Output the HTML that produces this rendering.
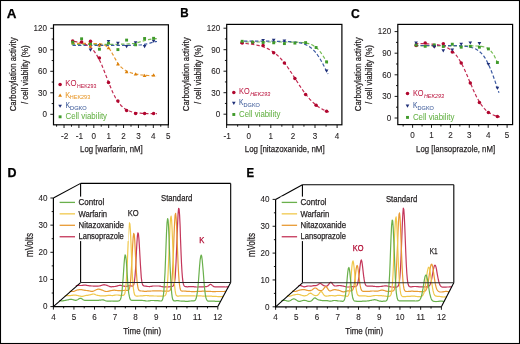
<!DOCTYPE html>
<html><head><meta charset="utf-8"><style>
html,body{margin:0;padding:0;background:#fff;}
svg{display:block;will-change:transform;}
text{font-family:"Liberation Sans",sans-serif;}
</style></head><body>
<svg width="520" height="344" viewBox="0 0 520 344" font-family="Liberation Sans, sans-serif">
<rect x="0.5" y="0.5" width="519" height="343" fill="#fff" stroke="#000" stroke-width="1.1"/>
<text x="6.80" y="17.90" font-size="12.2" fill="#000" stroke="#000" stroke-width="0.25" text-anchor="start" textLength="9.7" lengthAdjust="spacingAndGlyphs" font-weight="bold">A</text>
<text x="180.30" y="17.40" font-size="12.2" fill="#000" stroke="#000" stroke-width="0.25" text-anchor="start" textLength="8.4" lengthAdjust="spacingAndGlyphs" font-weight="bold">B</text>
<text x="351.00" y="17.60" font-size="12.2" fill="#000" stroke="#000" stroke-width="0.25" text-anchor="start" textLength="8.8" lengthAdjust="spacingAndGlyphs" font-weight="bold">C</text>
<text x="7.60" y="177.00" font-size="12.2" fill="#000" stroke="#000" stroke-width="0.25" text-anchor="start" textLength="9.0" lengthAdjust="spacingAndGlyphs" font-weight="bold">D</text>
<text x="246.40" y="177.10" font-size="12.2" fill="#000" stroke="#000" stroke-width="0.25" text-anchor="start" textLength="7.6" lengthAdjust="spacingAndGlyphs" font-weight="bold">E</text>
<line x1="50.30" y1="114.30" x2="53.50" y2="114.30" stroke="#000" stroke-width="0.9" />
<text x="47.00" y="117.10" font-size="8.7" fill="#231f20" stroke="#231f20" stroke-width="0.1" text-anchor="end" textLength="4.5" lengthAdjust="spacingAndGlyphs" >0</text>
<line x1="50.30" y1="92.80" x2="53.50" y2="92.80" stroke="#000" stroke-width="0.9" />
<text x="47.00" y="95.60" font-size="8.7" fill="#231f20" stroke="#231f20" stroke-width="0.1" text-anchor="end" textLength="9.0" lengthAdjust="spacingAndGlyphs" >30</text>
<line x1="50.30" y1="71.30" x2="53.50" y2="71.30" stroke="#000" stroke-width="0.9" />
<text x="47.00" y="74.10" font-size="8.7" fill="#231f20" stroke="#231f20" stroke-width="0.1" text-anchor="end" textLength="9.0" lengthAdjust="spacingAndGlyphs" >60</text>
<line x1="50.30" y1="49.80" x2="53.50" y2="49.80" stroke="#000" stroke-width="0.9" />
<text x="47.00" y="52.60" font-size="8.7" fill="#231f20" stroke="#231f20" stroke-width="0.1" text-anchor="end" textLength="9.0" lengthAdjust="spacingAndGlyphs" >90</text>
<line x1="50.30" y1="28.30" x2="53.50" y2="28.30" stroke="#000" stroke-width="0.9" />
<text x="47.00" y="31.10" font-size="8.7" fill="#231f20" stroke="#231f20" stroke-width="0.1" text-anchor="end" textLength="13.5" lengthAdjust="spacingAndGlyphs" >120</text>
<line x1="51.70" y1="103.55" x2="53.50" y2="103.55" stroke="#000" stroke-width="0.9" />
<line x1="51.70" y1="82.05" x2="53.50" y2="82.05" stroke="#000" stroke-width="0.9" />
<line x1="51.70" y1="60.55" x2="53.50" y2="60.55" stroke="#000" stroke-width="0.9" />
<line x1="51.70" y1="39.05" x2="53.50" y2="39.05" stroke="#000" stroke-width="0.9" />
<line x1="64.04" y1="124.80" x2="64.04" y2="128.00" stroke="#000" stroke-width="0.9" />
<text x="64.64" y="138.60" font-size="8.7" fill="#231f20" stroke="#231f20" stroke-width="0.1" text-anchor="middle" textLength="7.4" lengthAdjust="spacingAndGlyphs" >-2</text>
<line x1="78.92" y1="124.80" x2="78.92" y2="128.00" stroke="#000" stroke-width="0.9" />
<text x="79.52" y="138.60" font-size="8.7" fill="#231f20" stroke="#231f20" stroke-width="0.1" text-anchor="middle" textLength="7.4" lengthAdjust="spacingAndGlyphs" >-1</text>
<line x1="93.80" y1="124.80" x2="93.80" y2="128.00" stroke="#000" stroke-width="0.9" />
<text x="93.80" y="138.60" font-size="8.7" fill="#231f20" stroke="#231f20" stroke-width="0.1" text-anchor="middle" textLength="4.5" lengthAdjust="spacingAndGlyphs" >0</text>
<line x1="108.68" y1="124.80" x2="108.68" y2="128.00" stroke="#000" stroke-width="0.9" />
<text x="108.68" y="138.60" font-size="8.7" fill="#231f20" stroke="#231f20" stroke-width="0.1" text-anchor="middle" textLength="4.5" lengthAdjust="spacingAndGlyphs" >1</text>
<line x1="123.56" y1="124.80" x2="123.56" y2="128.00" stroke="#000" stroke-width="0.9" />
<text x="123.56" y="138.60" font-size="8.7" fill="#231f20" stroke="#231f20" stroke-width="0.1" text-anchor="middle" textLength="4.5" lengthAdjust="spacingAndGlyphs" >2</text>
<line x1="138.44" y1="124.80" x2="138.44" y2="128.00" stroke="#000" stroke-width="0.9" />
<text x="138.44" y="138.60" font-size="8.7" fill="#231f20" stroke="#231f20" stroke-width="0.1" text-anchor="middle" textLength="4.5" lengthAdjust="spacingAndGlyphs" >3</text>
<line x1="153.32" y1="124.80" x2="153.32" y2="128.00" stroke="#000" stroke-width="0.9" />
<text x="153.32" y="138.60" font-size="8.7" fill="#231f20" stroke="#231f20" stroke-width="0.1" text-anchor="middle" textLength="4.5" lengthAdjust="spacingAndGlyphs" >4</text>
<line x1="168.20" y1="124.80" x2="168.20" y2="128.00" stroke="#000" stroke-width="0.9" />
<text x="168.20" y="138.60" font-size="8.7" fill="#231f20" stroke="#231f20" stroke-width="0.1" text-anchor="middle" textLength="4.5" lengthAdjust="spacingAndGlyphs" >5</text>
<line x1="56.60" y1="124.80" x2="56.60" y2="126.70" stroke="#000" stroke-width="0.9" />
<line x1="71.48" y1="124.80" x2="71.48" y2="126.70" stroke="#000" stroke-width="0.9" />
<line x1="86.36" y1="124.80" x2="86.36" y2="126.70" stroke="#000" stroke-width="0.9" />
<line x1="101.24" y1="124.80" x2="101.24" y2="126.70" stroke="#000" stroke-width="0.9" />
<line x1="116.12" y1="124.80" x2="116.12" y2="126.70" stroke="#000" stroke-width="0.9" />
<line x1="131.00" y1="124.80" x2="131.00" y2="126.70" stroke="#000" stroke-width="0.9" />
<line x1="145.88" y1="124.80" x2="145.88" y2="126.70" stroke="#000" stroke-width="0.9" />
<line x1="160.76" y1="124.80" x2="160.76" y2="126.70" stroke="#000" stroke-width="0.9" />
<rect x="53.50" y="24.80" width="114.90" height="100.00" fill="none" stroke="#000" stroke-width="1.2"/>
<text x="80.10" y="151.80" font-size="9.8" fill="#231f20" stroke="#231f20" stroke-width="0.25" text-anchor="start" textLength="62.6" lengthAdjust="spacingAndGlyphs" >Log [warfarin, nM]</text>
<text transform="translate(16.2,111.3) rotate(-90)" font-size="9.9" fill="#231f20" stroke="#231f20" stroke-width="0.25" textLength="73.9" lengthAdjust="spacingAndGlyphs">Carboxylation activity</text>
<text transform="translate(27.8,104.1) rotate(-90)" font-size="9.9" fill="#231f20" stroke="#231f20" stroke-width="0.25" textLength="58.8" lengthAdjust="spacingAndGlyphs">/ cell viability (%)</text>
<line x1="223.50" y1="114.20" x2="226.70" y2="114.20" stroke="#000" stroke-width="0.9" />
<text x="220.20" y="117.00" font-size="8.7" fill="#231f20" stroke="#231f20" stroke-width="0.1" text-anchor="end" textLength="4.5" lengthAdjust="spacingAndGlyphs" >0</text>
<line x1="223.50" y1="92.70" x2="226.70" y2="92.70" stroke="#000" stroke-width="0.9" />
<text x="220.20" y="95.50" font-size="8.7" fill="#231f20" stroke="#231f20" stroke-width="0.1" text-anchor="end" textLength="9.0" lengthAdjust="spacingAndGlyphs" >30</text>
<line x1="223.50" y1="71.20" x2="226.70" y2="71.20" stroke="#000" stroke-width="0.9" />
<text x="220.20" y="74.00" font-size="8.7" fill="#231f20" stroke="#231f20" stroke-width="0.1" text-anchor="end" textLength="9.0" lengthAdjust="spacingAndGlyphs" >60</text>
<line x1="223.50" y1="49.70" x2="226.70" y2="49.70" stroke="#000" stroke-width="0.9" />
<text x="220.20" y="52.50" font-size="8.7" fill="#231f20" stroke="#231f20" stroke-width="0.1" text-anchor="end" textLength="9.0" lengthAdjust="spacingAndGlyphs" >90</text>
<line x1="223.50" y1="28.20" x2="226.70" y2="28.20" stroke="#000" stroke-width="0.9" />
<text x="220.20" y="31.00" font-size="8.7" fill="#231f20" stroke="#231f20" stroke-width="0.1" text-anchor="end" textLength="13.5" lengthAdjust="spacingAndGlyphs" >120</text>
<line x1="224.90" y1="103.45" x2="226.70" y2="103.45" stroke="#000" stroke-width="0.9" />
<line x1="224.90" y1="81.95" x2="226.70" y2="81.95" stroke="#000" stroke-width="0.9" />
<line x1="224.90" y1="60.45" x2="226.70" y2="60.45" stroke="#000" stroke-width="0.9" />
<line x1="224.90" y1="38.95" x2="226.70" y2="38.95" stroke="#000" stroke-width="0.9" />
<line x1="226.60" y1="124.80" x2="226.60" y2="128.00" stroke="#000" stroke-width="0.9" />
<text x="227.20" y="138.60" font-size="8.7" fill="#231f20" stroke="#231f20" stroke-width="0.1" text-anchor="middle" textLength="7.4" lengthAdjust="spacingAndGlyphs" >-1</text>
<line x1="248.70" y1="124.80" x2="248.70" y2="128.00" stroke="#000" stroke-width="0.9" />
<text x="248.70" y="138.60" font-size="8.7" fill="#231f20" stroke="#231f20" stroke-width="0.1" text-anchor="middle" textLength="4.5" lengthAdjust="spacingAndGlyphs" >0</text>
<line x1="270.80" y1="124.80" x2="270.80" y2="128.00" stroke="#000" stroke-width="0.9" />
<text x="270.80" y="138.60" font-size="8.7" fill="#231f20" stroke="#231f20" stroke-width="0.1" text-anchor="middle" textLength="4.5" lengthAdjust="spacingAndGlyphs" >1</text>
<line x1="292.90" y1="124.80" x2="292.90" y2="128.00" stroke="#000" stroke-width="0.9" />
<text x="292.90" y="138.60" font-size="8.7" fill="#231f20" stroke="#231f20" stroke-width="0.1" text-anchor="middle" textLength="4.5" lengthAdjust="spacingAndGlyphs" >2</text>
<line x1="315.00" y1="124.80" x2="315.00" y2="128.00" stroke="#000" stroke-width="0.9" />
<text x="315.00" y="138.60" font-size="8.7" fill="#231f20" stroke="#231f20" stroke-width="0.1" text-anchor="middle" textLength="4.5" lengthAdjust="spacingAndGlyphs" >3</text>
<line x1="337.10" y1="124.80" x2="337.10" y2="128.00" stroke="#000" stroke-width="0.9" />
<text x="337.10" y="138.60" font-size="8.7" fill="#231f20" stroke="#231f20" stroke-width="0.1" text-anchor="middle" textLength="4.5" lengthAdjust="spacingAndGlyphs" >4</text>
<line x1="237.65" y1="124.80" x2="237.65" y2="126.70" stroke="#000" stroke-width="0.9" />
<line x1="259.75" y1="124.80" x2="259.75" y2="126.70" stroke="#000" stroke-width="0.9" />
<line x1="281.85" y1="124.80" x2="281.85" y2="126.70" stroke="#000" stroke-width="0.9" />
<line x1="303.95" y1="124.80" x2="303.95" y2="126.70" stroke="#000" stroke-width="0.9" />
<line x1="326.05" y1="124.80" x2="326.05" y2="126.70" stroke="#000" stroke-width="0.9" />
<rect x="226.70" y="24.40" width="115.20" height="100.40" fill="none" stroke="#000" stroke-width="1.2"/>
<text x="244.80" y="151.80" font-size="9.8" fill="#231f20" stroke="#231f20" stroke-width="0.25" text-anchor="start" textLength="79.8" lengthAdjust="spacingAndGlyphs" >Log [nitazoxanide, nM]</text>
<text transform="translate(189.4,111.2) rotate(-90)" font-size="9.9" fill="#231f20" stroke="#231f20" stroke-width="0.25" textLength="73.9" lengthAdjust="spacingAndGlyphs">Carboxylation activity</text>
<text transform="translate(201.0,104.0) rotate(-90)" font-size="9.9" fill="#231f20" stroke="#231f20" stroke-width="0.25" textLength="58.8" lengthAdjust="spacingAndGlyphs">/ cell viability (%)</text>
<line x1="394.60" y1="118.00" x2="397.80" y2="118.00" stroke="#000" stroke-width="0.9" />
<text x="391.30" y="120.80" font-size="8.7" fill="#231f20" stroke="#231f20" stroke-width="0.1" text-anchor="end" textLength="4.5" lengthAdjust="spacingAndGlyphs" >0</text>
<line x1="394.60" y1="96.40" x2="397.80" y2="96.40" stroke="#000" stroke-width="0.9" />
<text x="391.30" y="99.20" font-size="8.7" fill="#231f20" stroke="#231f20" stroke-width="0.1" text-anchor="end" textLength="9.0" lengthAdjust="spacingAndGlyphs" >30</text>
<line x1="394.60" y1="74.80" x2="397.80" y2="74.80" stroke="#000" stroke-width="0.9" />
<text x="391.30" y="77.60" font-size="8.7" fill="#231f20" stroke="#231f20" stroke-width="0.1" text-anchor="end" textLength="9.0" lengthAdjust="spacingAndGlyphs" >60</text>
<line x1="394.60" y1="53.20" x2="397.80" y2="53.20" stroke="#000" stroke-width="0.9" />
<text x="391.30" y="56.00" font-size="8.7" fill="#231f20" stroke="#231f20" stroke-width="0.1" text-anchor="end" textLength="9.0" lengthAdjust="spacingAndGlyphs" >90</text>
<line x1="394.60" y1="31.60" x2="397.80" y2="31.60" stroke="#000" stroke-width="0.9" />
<text x="391.30" y="34.40" font-size="8.7" fill="#231f20" stroke="#231f20" stroke-width="0.1" text-anchor="end" textLength="13.5" lengthAdjust="spacingAndGlyphs" >120</text>
<line x1="396.00" y1="107.20" x2="397.80" y2="107.20" stroke="#000" stroke-width="0.9" />
<line x1="396.00" y1="85.60" x2="397.80" y2="85.60" stroke="#000" stroke-width="0.9" />
<line x1="396.00" y1="64.00" x2="397.80" y2="64.00" stroke="#000" stroke-width="0.9" />
<line x1="396.00" y1="42.40" x2="397.80" y2="42.40" stroke="#000" stroke-width="0.9" />
<line x1="412.60" y1="124.60" x2="412.60" y2="127.80" stroke="#000" stroke-width="0.9" />
<text x="412.60" y="138.40" font-size="8.7" fill="#231f20" stroke="#231f20" stroke-width="0.1" text-anchor="middle" textLength="4.5" lengthAdjust="spacingAndGlyphs" >0</text>
<line x1="431.50" y1="124.60" x2="431.50" y2="127.80" stroke="#000" stroke-width="0.9" />
<text x="431.50" y="138.40" font-size="8.7" fill="#231f20" stroke="#231f20" stroke-width="0.1" text-anchor="middle" textLength="4.5" lengthAdjust="spacingAndGlyphs" >1</text>
<line x1="450.40" y1="124.60" x2="450.40" y2="127.80" stroke="#000" stroke-width="0.9" />
<text x="450.40" y="138.40" font-size="8.7" fill="#231f20" stroke="#231f20" stroke-width="0.1" text-anchor="middle" textLength="4.5" lengthAdjust="spacingAndGlyphs" >2</text>
<line x1="469.30" y1="124.60" x2="469.30" y2="127.80" stroke="#000" stroke-width="0.9" />
<text x="469.30" y="138.40" font-size="8.7" fill="#231f20" stroke="#231f20" stroke-width="0.1" text-anchor="middle" textLength="4.5" lengthAdjust="spacingAndGlyphs" >3</text>
<line x1="488.20" y1="124.60" x2="488.20" y2="127.80" stroke="#000" stroke-width="0.9" />
<text x="488.20" y="138.40" font-size="8.7" fill="#231f20" stroke="#231f20" stroke-width="0.1" text-anchor="middle" textLength="4.5" lengthAdjust="spacingAndGlyphs" >4</text>
<line x1="507.10" y1="124.60" x2="507.10" y2="127.80" stroke="#000" stroke-width="0.9" />
<text x="507.10" y="138.40" font-size="8.7" fill="#231f20" stroke="#231f20" stroke-width="0.1" text-anchor="middle" textLength="4.5" lengthAdjust="spacingAndGlyphs" >5</text>
<line x1="403.15" y1="124.60" x2="403.15" y2="126.50" stroke="#000" stroke-width="0.9" />
<line x1="422.05" y1="124.60" x2="422.05" y2="126.50" stroke="#000" stroke-width="0.9" />
<line x1="440.95" y1="124.60" x2="440.95" y2="126.50" stroke="#000" stroke-width="0.9" />
<line x1="459.85" y1="124.60" x2="459.85" y2="126.50" stroke="#000" stroke-width="0.9" />
<line x1="478.75" y1="124.60" x2="478.75" y2="126.50" stroke="#000" stroke-width="0.9" />
<line x1="497.65" y1="124.60" x2="497.65" y2="126.50" stroke="#000" stroke-width="0.9" />
<rect x="397.80" y="24.40" width="114.80" height="100.20" fill="none" stroke="#000" stroke-width="1.2"/>
<text x="416.10" y="151.80" font-size="9.8" fill="#231f20" stroke="#231f20" stroke-width="0.25" text-anchor="start" textLength="79.0" lengthAdjust="spacingAndGlyphs" >Log [lansoprazole, nM]</text>
<text transform="translate(360.5,111.2) rotate(-90)" font-size="9.9" fill="#231f20" stroke="#231f20" stroke-width="0.25" textLength="73.9" lengthAdjust="spacingAndGlyphs">Carboxylation activity</text>
<text transform="translate(372.1,104.0) rotate(-90)" font-size="9.9" fill="#231f20" stroke="#231f20" stroke-width="0.25" textLength="58.8" lengthAdjust="spacingAndGlyphs">/ cell viability (%)</text>
<path d="M71.5,44.3 L72.9,44.3 L74.3,44.3 L75.8,44.3 L77.2,44.3 L78.6,44.3 L80.0,44.3 L81.5,44.3 L82.9,44.3 L84.3,44.3 L85.8,44.3 L87.2,44.3 L88.6,44.3 L90.0,44.3 L91.5,44.3 L92.9,44.3 L94.3,44.3 L95.7,44.3 L97.2,44.3 L98.6,44.3 L100.0,44.3 L101.4,44.3 L102.8,44.3 L104.3,44.3 L105.7,44.3 L107.1,44.3 L108.5,44.3 L110.0,44.3 L111.4,44.3 L112.8,44.3 L114.2,44.3 L115.7,44.3 L117.1,44.3 L118.5,44.2 L120.0,44.2 L121.4,44.2 L122.8,44.2 L124.2,44.1 L125.7,44.1 L127.1,44.0 L128.5,43.9 L129.9,43.8 L131.3,43.7 L132.8,43.5 L134.2,43.3 L135.6,43.0 L137.1,42.7 L138.5,42.3 L139.9,41.9 L141.3,41.5 L142.8,41.1 L144.2,40.7 L145.6,40.3 L147.0,39.9 L148.4,39.6 L149.9,39.3 L151.3,39.1 L152.7,38.9 L154.2,38.8 L155.6,38.7 L157.0,38.6" fill="none" stroke="#74bc52" stroke-width="1.2" stroke-dasharray="3.4 2.1"/>
<path d="M72.5,45.3 L73.9,45.3 L75.3,45.3 L76.7,45.3 L78.1,45.3 L79.5,45.3 L81.0,45.3 L82.4,45.3 L83.8,45.3 L85.2,45.3 L86.6,45.3 L88.0,45.3 L89.4,45.3 L90.8,45.3 L92.2,45.3 L93.6,45.3 L95.0,45.3 L96.4,45.3 L97.8,45.3 L99.3,45.3 L100.7,45.3 L102.1,45.3 L103.5,45.3 L104.9,45.3 L106.3,45.3 L107.7,45.3 L109.1,45.3 L110.5,45.3 L111.9,45.3 L113.3,45.3 L114.8,45.3 L116.2,45.3 L117.6,45.3 L119.0,45.3 L120.4,45.3 L121.8,45.3 L123.2,45.3 L124.6,45.3 L126.0,45.3 L127.4,45.3 L128.8,45.3 L130.2,45.3 L131.7,45.3 L133.1,45.2 L134.5,45.2 L135.9,45.2 L137.3,45.1 L138.7,45.0 L140.1,45.0 L141.5,44.8 L142.9,44.6 L144.3,44.4 L145.7,44.1 L147.1,43.8 L148.6,43.5 L150.0,43.1 L151.4,42.7 L152.8,42.3 L154.2,42.0 L155.6,41.7 L157.0,41.5" fill="none" stroke="#3c5aa2" stroke-width="1.2" stroke-dasharray="3.4 2.1"/>
<path d="M71.5,43.4 L73.5,43.4 L76.3,43.4 L79.7,43.4 L83.4,43.4 L87.1,43.4 L90.6,43.4 L93.7,43.5 L96.0,43.5 L97.6,43.6 L98.8,43.6 L99.6,43.6 L100.1,43.7 L100.5,43.8 L100.9,43.9 L101.4,44.1 L102.0,44.3 L102.8,44.6 L103.6,44.9 L104.4,45.2 L105.2,45.5 L106.0,46.0 L106.8,46.4 L107.5,46.9 L108.2,47.4 L108.8,47.9 L109.3,48.5 L109.7,49.1 L110.1,49.8 L110.5,50.4 L111.0,51.2 L111.4,52.1 L112.0,53.0 L112.6,54.1 L113.4,55.4 L114.1,56.8 L114.9,58.2 L115.7,59.6 L116.5,61.0 L117.2,62.3 L117.9,63.3 L118.5,64.2 L119.0,64.9 L119.5,65.5 L120.0,66.1 L120.5,66.5 L121.0,67.0 L121.5,67.4 L122.0,67.9 L122.6,68.4 L123.1,68.8 L123.7,69.2 L124.3,69.6 L124.9,70.0 L125.5,70.4 L126.0,70.7 L126.6,71.0 L127.2,71.3 L127.7,71.6 L128.3,71.8 L128.8,72.0 L129.3,72.2 L129.9,72.4 L130.4,72.6 L131.0,72.8 L131.5,73.0 L132.0,73.1 L132.5,73.3 L133.0,73.4 L133.5,73.6 L134.1,73.7 L134.8,73.8 L135.6,74.0 L136.5,74.2 L137.6,74.3 L138.7,74.5 L139.8,74.7 L141.1,74.9 L142.4,75.0 L143.7,75.2 L145.0,75.3 L146.5,75.4 L148.1,75.5 L149.8,75.6 L151.6,75.6 L153.3,75.7 L154.8,75.7 L156.1,75.8 L157.0,75.8" fill="none" stroke="#e69830" stroke-width="1.2" stroke-dasharray="3.4 2.1"/>
<path d="M74.0,41.6 L75.4,41.7 L76.8,41.9 L78.2,42.1 L79.5,42.4 L80.9,42.7 L82.3,43.1 L83.7,43.5 L85.1,44.1 L86.5,44.7 L87.8,45.5 L89.2,46.4 L90.6,47.5 L92.0,48.8 L93.4,50.3 L94.8,52.1 L96.1,54.1 L97.5,56.4 L98.9,58.9 L100.3,61.7 L101.7,64.8 L103.0,68.1 L104.4,71.5 L105.8,75.1 L107.2,78.7 L108.6,82.2 L110.0,85.7 L111.3,89.0 L112.7,92.2 L114.1,95.0 L115.5,97.7 L116.9,100.0 L118.3,102.1 L119.7,103.9 L121.0,105.5 L122.4,106.8 L123.8,108.0 L125.2,108.9 L126.6,109.8 L128.0,110.5 L129.3,111.0 L130.7,111.5 L132.1,111.9 L133.5,112.2 L134.9,112.5 L136.2,112.7 L137.6,112.9 L139.0,113.1 L140.4,113.2 L141.8,113.3 L143.2,113.4 L144.6,113.5 L145.9,113.5 L147.3,113.6 L148.7,113.6 L150.1,113.7 L151.5,113.7 L152.8,113.7 L154.2,113.7 L155.6,113.7 L157.0,113.7" fill="none" stroke="#c22a52" stroke-width="1.2" stroke-dasharray="3.4 2.1"/>
<circle cx="72.70" cy="41.00" r="1.75" fill="#b0062e"/>
<path d="M90.50,51.65 L92.34,48.50 L88.66,48.50Z" fill="#1f2f78"/>
<path d="M99.40,47.25 L101.24,44.10 L97.56,44.10Z" fill="#1f2f78"/>
<path d="M108.50,43.25 L110.34,40.10 L106.66,40.10Z" fill="#1f2f78"/>
<path d="M117.90,44.95 L119.74,41.80 L116.06,41.80Z" fill="#1f2f78"/>
<path d="M126.60,48.15 L128.44,45.00 L124.76,45.00Z" fill="#1f2f78"/>
<path d="M135.60,44.45 L137.44,41.30 L133.76,41.30Z" fill="#1f2f78"/>
<path d="M144.60,48.15 L146.44,45.00 L142.76,45.00Z" fill="#1f2f78"/>
<path d="M153.60,42.85 L155.44,39.70 L151.76,39.70Z" fill="#1f2f78"/>
<path d="M90.50,44.20 L92.39,47.44 L88.61,47.44Z" fill="#dc800a"/>
<path d="M99.40,43.20 L101.29,46.44 L97.51,46.44Z" fill="#dc800a"/>
<path d="M108.50,46.00 L110.39,49.24 L106.61,49.24Z" fill="#dc800a"/>
<path d="M117.90,62.20 L119.79,65.44 L116.01,65.44Z" fill="#dc800a"/>
<path d="M126.60,70.00 L128.49,73.24 L124.71,73.24Z" fill="#dc800a"/>
<path d="M135.60,72.20 L137.49,75.44 L133.71,75.44Z" fill="#dc800a"/>
<path d="M144.60,73.80 L146.49,77.04 L142.71,77.04Z" fill="#dc800a"/>
<path d="M153.60,73.30 L155.49,76.54 L151.71,76.54Z" fill="#dc800a"/>
<rect x="71.25" y="40.75" width="2.90" height="2.90" fill="#3f9a2a"/>
<rect x="80.15" y="37.35" width="2.90" height="2.90" fill="#3f9a2a"/>
<rect x="89.05" y="42.15" width="2.90" height="2.90" fill="#3f9a2a"/>
<rect x="97.95" y="47.75" width="2.90" height="2.90" fill="#3f9a2a"/>
<rect x="107.05" y="41.75" width="2.90" height="2.90" fill="#3f9a2a"/>
<rect x="116.45" y="48.15" width="2.90" height="2.90" fill="#3f9a2a"/>
<rect x="125.15" y="38.65" width="2.90" height="2.90" fill="#3f9a2a"/>
<rect x="134.15" y="43.35" width="2.90" height="2.90" fill="#3f9a2a"/>
<rect x="143.15" y="37.05" width="2.90" height="2.90" fill="#3f9a2a"/>
<rect x="152.15" y="36.85" width="2.90" height="2.90" fill="#3f9a2a"/>
<circle cx="81.60" cy="42.10" r="1.75" fill="#b0062e"/>
<circle cx="90.50" cy="41.20" r="1.75" fill="#b0062e"/>
<circle cx="99.40" cy="58.10" r="1.75" fill="#b0062e"/>
<circle cx="108.50" cy="82.60" r="1.75" fill="#b0062e"/>
<circle cx="117.90" cy="100.90" r="1.75" fill="#b0062e"/>
<circle cx="126.60" cy="110.60" r="1.75" fill="#b0062e"/>
<circle cx="135.60" cy="113.50" r="1.75" fill="#b0062e"/>
<circle cx="144.60" cy="113.50" r="1.75" fill="#b0062e"/>
<circle cx="153.60" cy="113.50" r="1.75" fill="#b0062e"/>
<path d="M240.0,42.0 L241.5,42.0 L242.9,42.0 L244.4,42.0 L245.9,42.0 L247.3,42.0 L248.8,42.0 L250.3,42.0 L251.7,42.0 L253.2,42.0 L254.7,42.0 L256.1,42.0 L257.6,42.0 L259.1,42.0 L260.5,42.0 L262.0,42.0 L263.5,42.0 L264.9,42.0 L266.4,42.0 L267.9,42.0 L269.3,42.0 L270.8,42.0 L272.3,42.0 L273.7,42.0 L275.2,42.0 L276.7,42.0 L278.1,42.0 L279.6,42.0 L281.1,42.0 L282.5,42.0 L284.0,42.0 L285.5,42.0 L286.9,42.0 L288.4,42.1 L289.9,42.1 L291.3,42.1 L292.8,42.1 L294.3,42.1 L295.7,42.2 L297.2,42.2 L298.7,42.3 L300.1,42.4 L301.6,42.5 L303.1,42.6 L304.5,42.8 L306.0,43.1 L307.5,43.4 L308.9,43.7 L310.4,44.2 L311.9,44.8 L313.3,45.6 L314.8,46.5 L316.3,47.6 L317.7,48.9 L319.2,50.5 L320.7,52.4 L322.1,54.5 L323.6,56.7 L325.1,59.2 L326.5,61.7 L328.0,64.3" fill="none" stroke="#74bc52" stroke-width="1.2" stroke-dasharray="3.4 2.1"/>
<path d="M244.0,41.2 L245.4,41.2 L246.8,41.2 L248.2,41.2 L249.6,41.2 L251.0,41.2 L252.4,41.2 L253.8,41.2 L255.2,41.2 L256.6,41.2 L258.0,41.2 L259.4,41.2 L260.8,41.2 L262.2,41.2 L263.6,41.2 L265.0,41.2 L266.4,41.2 L267.8,41.2 L269.2,41.2 L270.6,41.2 L272.0,41.2 L273.4,41.2 L274.8,41.3 L276.2,41.3 L277.6,41.3 L279.0,41.3 L280.4,41.3 L281.8,41.4 L283.2,41.4 L284.6,41.4 L286.0,41.5 L287.4,41.5 L288.8,41.6 L290.2,41.7 L291.6,41.8 L293.0,41.9 L294.4,42.0 L295.8,42.2 L297.2,42.4 L298.6,42.6 L300.0,42.9 L301.4,43.2 L302.8,43.6 L304.2,44.1 L305.6,44.6 L307.0,45.3 L308.4,46.1 L309.8,47.0 L311.2,48.0 L312.6,49.2 L314.0,50.6 L315.4,52.2 L316.8,54.0 L318.2,56.0 L319.6,58.1 L321.0,60.5 L322.4,63.0 L323.8,65.7 L325.2,68.4 L326.6,71.2 L328.0,74.0" fill="none" stroke="#3c5aa2" stroke-width="1.2" stroke-dasharray="3.4 2.1"/>
<path d="M240.0,43.1 L241.5,43.2 L243.0,43.3 L244.4,43.4 L245.9,43.5 L247.4,43.7 L248.9,43.8 L250.4,44.0 L251.9,44.2 L253.3,44.4 L254.8,44.7 L256.3,45.0 L257.8,45.3 L259.3,45.7 L260.8,46.1 L262.2,46.5 L263.7,47.0 L265.2,47.6 L266.7,48.2 L268.2,48.9 L269.7,49.7 L271.1,50.6 L272.6,51.6 L274.1,52.6 L275.6,53.8 L277.1,55.0 L278.6,56.4 L280.1,57.9 L281.5,59.5 L283.0,61.2 L284.5,63.0 L286.0,64.9 L287.5,67.0 L288.9,69.1 L290.4,71.3 L291.9,73.5 L293.4,75.8 L294.9,78.1 L296.4,80.5 L297.9,82.8 L299.3,85.1 L300.8,87.3 L302.3,89.5 L303.8,91.6 L305.3,93.6 L306.8,95.5 L308.2,97.4 L309.7,99.1 L311.2,100.7 L312.7,102.1 L314.2,103.5 L315.6,104.8 L317.1,105.9 L318.6,107.0 L320.1,107.9 L321.6,108.8 L323.1,109.6 L324.6,110.3 L326.0,110.9 L327.5,111.5 L329.0,112.0" fill="none" stroke="#c22a52" stroke-width="1.2" stroke-dasharray="3.4 2.1"/>
<circle cx="242.20" cy="42.90" r="1.75" fill="#b0062e"/>
<circle cx="252.70" cy="42.40" r="1.75" fill="#b0062e"/>
<circle cx="263.10" cy="45.50" r="1.75" fill="#b0062e"/>
<circle cx="273.70" cy="52.70" r="1.75" fill="#b0062e"/>
<circle cx="284.40" cy="62.90" r="1.75" fill="#b0062e"/>
<circle cx="294.90" cy="78.40" r="1.75" fill="#b0062e"/>
<circle cx="305.60" cy="94.60" r="1.75" fill="#b0062e"/>
<circle cx="316.10" cy="105.30" r="1.75" fill="#b0062e"/>
<circle cx="326.60" cy="111.20" r="1.75" fill="#b0062e"/>
<path d="M263.10,42.05 L264.94,38.90 L261.26,38.90Z" fill="#1f2f78"/>
<path d="M273.70,41.95 L275.54,38.80 L271.86,38.80Z" fill="#1f2f78"/>
<path d="M284.40,42.55 L286.24,39.40 L282.56,39.40Z" fill="#1f2f78"/>
<path d="M326.60,72.65 L328.44,69.50 L324.76,69.50Z" fill="#1f2f78"/>
<rect x="240.75" y="39.85" width="2.90" height="2.90" fill="#3f9a2a"/>
<rect x="251.25" y="40.65" width="2.90" height="2.90" fill="#3f9a2a"/>
<rect x="261.65" y="41.05" width="2.90" height="2.90" fill="#3f9a2a"/>
<rect x="272.25" y="41.35" width="2.90" height="2.90" fill="#3f9a2a"/>
<rect x="282.95" y="42.15" width="2.90" height="2.90" fill="#3f9a2a"/>
<rect x="293.45" y="41.65" width="2.90" height="2.90" fill="#3f9a2a"/>
<rect x="304.15" y="41.15" width="2.90" height="2.90" fill="#3f9a2a"/>
<rect x="314.65" y="46.05" width="2.90" height="2.90" fill="#3f9a2a"/>
<rect x="325.15" y="60.45" width="2.90" height="2.90" fill="#3f9a2a"/>
<path d="M415.0,45.8 L416.4,45.8 L417.8,45.8 L419.1,45.8 L420.5,45.8 L421.9,45.8 L423.3,45.8 L424.7,45.8 L426.1,45.8 L427.4,45.8 L428.8,45.8 L430.2,45.8 L431.6,45.8 L433.0,45.8 L434.4,45.8 L435.8,45.8 L437.1,45.8 L438.5,45.8 L439.9,45.8 L441.3,45.8 L442.7,45.8 L444.1,45.8 L445.4,45.8 L446.8,45.8 L448.2,45.8 L449.6,45.8 L451.0,45.8 L452.4,45.8 L453.7,45.8 L455.1,45.8 L456.5,45.8 L457.9,45.8 L459.3,45.8 L460.6,45.8 L462.0,45.8 L463.4,45.8 L464.8,45.8 L466.2,45.8 L467.6,45.8 L468.9,45.8 L470.3,45.8 L471.7,45.9 L473.1,45.9 L474.5,45.9 L475.9,46.0 L477.2,46.0 L478.6,46.1 L480.0,46.3 L481.4,46.4 L482.8,46.7 L484.2,47.0 L485.6,47.4 L486.9,48.0 L488.3,48.8 L489.7,49.9 L491.1,51.3 L492.5,53.0 L493.9,55.2 L495.2,57.8 L496.6,60.7 L498.0,63.9" fill="none" stroke="#74bc52" stroke-width="1.2" stroke-dasharray="3.4 2.1"/>
<path d="M415.0,45.5 L416.4,45.5 L417.8,45.5 L419.2,45.5 L420.6,45.5 L422.0,45.5 L423.4,45.5 L424.8,45.5 L426.2,45.5 L427.6,45.5 L429.0,45.5 L430.4,45.5 L431.8,45.5 L433.2,45.5 L434.6,45.5 L436.0,45.5 L437.4,45.5 L438.8,45.5 L440.2,45.5 L441.6,45.5 L443.0,45.5 L444.4,45.5 L445.8,45.5 L447.2,45.6 L448.6,45.6 L450.0,45.6 L451.4,45.6 L452.8,45.6 L454.2,45.7 L455.6,45.7 L457.0,45.7 L458.4,45.8 L459.8,45.9 L461.2,45.9 L462.6,46.0 L464.0,46.2 L465.4,46.3 L466.8,46.5 L468.2,46.7 L469.6,47.0 L471.0,47.3 L472.4,47.7 L473.8,48.2 L475.2,48.8 L476.6,49.6 L478.0,50.4 L479.4,51.5 L480.8,52.7 L482.2,54.2 L483.6,55.9 L485.0,57.9 L486.4,60.3 L487.8,62.9 L489.2,65.9 L490.6,69.2 L492.0,72.7 L493.4,76.5 L494.8,80.5 L496.2,84.6 L497.6,88.7 L499.0,92.8" fill="none" stroke="#3c5aa2" stroke-width="1.2" stroke-dasharray="3.4 2.1"/>
<path d="M415.0,43.6 L416.4,43.6 L417.8,43.6 L419.2,43.6 L420.7,43.7 L422.1,43.7 L423.5,43.7 L424.9,43.8 L426.3,43.8 L427.8,43.9 L429.2,44.0 L430.6,44.0 L432.0,44.1 L433.4,44.3 L434.8,44.4 L436.2,44.6 L437.7,44.8 L439.1,45.1 L440.5,45.4 L441.9,45.7 L443.3,46.1 L444.8,46.6 L446.2,47.2 L447.6,47.9 L449.0,48.7 L450.4,49.6 L451.8,50.7 L453.2,52.0 L454.7,53.4 L456.1,55.1 L457.5,57.0 L458.9,59.1 L460.3,61.4 L461.8,64.0 L463.2,66.7 L464.6,69.7 L466.0,72.8 L467.4,76.1 L468.8,79.4 L470.2,82.8 L471.7,86.1 L473.1,89.4 L474.5,92.5 L475.9,95.4 L477.3,98.2 L478.8,100.7 L480.2,103.1 L481.6,105.1 L483.0,107.0 L484.4,108.6 L485.8,110.1 L487.2,111.3 L488.7,112.4 L490.1,113.3 L491.5,114.1 L492.9,114.8 L494.3,115.4 L495.8,115.9 L497.2,116.3 L498.6,116.7 L500.0,117.0" fill="none" stroke="#c22a52" stroke-width="1.2" stroke-dasharray="3.4 2.1"/>
<circle cx="416.10" cy="45.40" r="1.75" fill="#b0062e"/>
<circle cx="425.20" cy="43.00" r="1.75" fill="#b0062e"/>
<circle cx="434.30" cy="46.00" r="1.75" fill="#b0062e"/>
<circle cx="443.30" cy="43.80" r="1.75" fill="#b0062e"/>
<circle cx="452.30" cy="52.10" r="1.75" fill="#b0062e"/>
<circle cx="461.20" cy="62.90" r="1.75" fill="#b0062e"/>
<circle cx="470.30" cy="82.90" r="1.75" fill="#b0062e"/>
<circle cx="479.40" cy="102.40" r="1.75" fill="#b0062e"/>
<circle cx="488.40" cy="112.50" r="1.75" fill="#b0062e"/>
<circle cx="497.40" cy="116.50" r="1.75" fill="#b0062e"/>
<rect x="414.65" y="43.55" width="2.90" height="2.90" fill="#3f9a2a"/>
<rect x="423.75" y="44.85" width="2.90" height="2.90" fill="#3f9a2a"/>
<rect x="432.85" y="43.45" width="2.90" height="2.90" fill="#3f9a2a"/>
<rect x="441.85" y="45.05" width="2.90" height="2.90" fill="#3f9a2a"/>
<rect x="450.85" y="42.75" width="2.90" height="2.90" fill="#3f9a2a"/>
<rect x="459.75" y="45.75" width="2.90" height="2.90" fill="#3f9a2a"/>
<rect x="468.85" y="44.85" width="2.90" height="2.90" fill="#3f9a2a"/>
<rect x="477.95" y="45.75" width="2.90" height="2.90" fill="#3f9a2a"/>
<rect x="486.95" y="47.45" width="2.90" height="2.90" fill="#3f9a2a"/>
<rect x="495.95" y="61.05" width="2.90" height="2.90" fill="#3f9a2a"/>
<path d="M416.10,44.55 L417.94,41.40 L414.26,41.40Z" fill="#1f2f78"/>
<path d="M434.30,48.75 L436.14,45.60 L432.46,45.60Z" fill="#1f2f78"/>
<path d="M443.30,52.45 L445.14,49.30 L441.46,49.30Z" fill="#1f2f78"/>
<path d="M452.30,51.55 L454.14,48.40 L450.46,48.40Z" fill="#1f2f78"/>
<path d="M461.20,45.85 L463.04,42.70 L459.36,42.70Z" fill="#1f2f78"/>
<path d="M470.30,44.55 L472.14,41.40 L468.46,41.40Z" fill="#1f2f78"/>
<path d="M479.40,45.15 L481.24,42.00 L477.56,42.00Z" fill="#1f2f78"/>
<path d="M488.40,66.05 L490.24,62.90 L486.56,62.90Z" fill="#1f2f78"/>
<path d="M497.40,89.85 L499.24,86.70 L495.56,86.70Z" fill="#1f2f78"/>
<circle cx="60.10" cy="84.60" r="1.75" fill="#b0062e"/>
<text x="65.30" y="85.90" font-size="8.3" fill="#be2048" stroke="#be2048" stroke-width="0.05" textLength="11.2" lengthAdjust="spacingAndGlyphs">KO</text>
<text x="76.90" y="88.30" font-size="6.1" fill="#be2048" stroke="#be2048" stroke-width="0.05" textLength="19.4" lengthAdjust="spacingAndGlyphs">HEK293</text>
<path d="M60.10,93.50 L61.99,96.74 L58.21,96.74Z" fill="#dc800a"/>
<text x="65.30" y="97.50" font-size="8.3" fill="#e8982a" stroke="#e8982a" stroke-width="0.05" textLength="4.9" lengthAdjust="spacingAndGlyphs">K</text>
<text x="69.80" y="99.00" font-size="6.1" fill="#e8982a" stroke="#e8982a" stroke-width="0.05" textLength="20.4" lengthAdjust="spacingAndGlyphs">HEK293</text>
<path d="M60.10,107.85 L61.94,104.70 L58.26,104.70Z" fill="#1f2f78"/>
<text x="65.40" y="107.80" font-size="8.3" fill="#3a5898" stroke="#3a5898" stroke-width="0.05" textLength="4.6" lengthAdjust="spacingAndGlyphs">K</text>
<text x="70.10" y="110.20" font-size="6.1" fill="#3a5898" stroke="#3a5898" stroke-width="0.05" textLength="16.6" lengthAdjust="spacingAndGlyphs">DGKO</text>
<rect x="58.65" y="115.35" width="2.90" height="2.90" fill="#3f9a2a"/>
<text x="65.50" y="119.30" font-size="8.3" fill="#66b246" stroke="#66b246" stroke-width="0.05" textLength="41.5" lengthAdjust="spacingAndGlyphs">Cell viability</text>
<circle cx="233.80" cy="92.60" r="1.75" fill="#b0062e"/>
<text x="239.10" y="94.30" font-size="8.3" fill="#be2048" stroke="#be2048" stroke-width="0.05" textLength="10.6" lengthAdjust="spacingAndGlyphs">KO</text>
<text x="250.20" y="96.40" font-size="6.1" fill="#be2048" stroke="#be2048" stroke-width="0.05" textLength="20.1" lengthAdjust="spacingAndGlyphs" font-style="italic">HEK293</text>
<path d="M233.80,104.95 L235.64,101.80 L231.96,101.80Z" fill="#1f2f78"/>
<text x="239.10" y="104.70" font-size="8.3" fill="#3a5898" stroke="#3a5898" stroke-width="0.05" textLength="4.4" lengthAdjust="spacingAndGlyphs">K</text>
<text x="243.60" y="106.80" font-size="6.1" fill="#3a5898" stroke="#3a5898" stroke-width="0.05" textLength="16.3" lengthAdjust="spacingAndGlyphs">DGKO</text>
<rect x="232.35" y="113.05" width="2.90" height="2.90" fill="#3f9a2a"/>
<text x="239.10" y="116.60" font-size="8.3" fill="#66b246" stroke="#66b246" stroke-width="0.05" textLength="41.3" lengthAdjust="spacingAndGlyphs">Cell viability</text>
<circle cx="407.50" cy="93.50" r="1.75" fill="#b0062e"/>
<text x="412.90" y="96.00" font-size="8.3" fill="#be2048" stroke="#be2048" stroke-width="0.05" textLength="10.6" lengthAdjust="spacingAndGlyphs">KO</text>
<text x="423.90" y="97.50" font-size="6.1" fill="#be2048" stroke="#be2048" stroke-width="0.05" textLength="20.1" lengthAdjust="spacingAndGlyphs" font-style="italic">HEK293</text>
<path d="M407.50,107.65 L409.34,104.50 L405.66,104.50Z" fill="#1f2f78"/>
<text x="412.90" y="108.00" font-size="8.3" fill="#3a5898" stroke="#3a5898" stroke-width="0.05" textLength="4.4" lengthAdjust="spacingAndGlyphs">K</text>
<text x="417.60" y="109.90" font-size="6.1" fill="#3a5898" stroke="#3a5898" stroke-width="0.05" textLength="16.3" lengthAdjust="spacingAndGlyphs">DGKO</text>
<rect x="406.05" y="115.95" width="2.90" height="2.90" fill="#3f9a2a"/>
<text x="412.90" y="119.70" font-size="8.3" fill="#66b246" stroke="#66b246" stroke-width="0.05" textLength="41.6" lengthAdjust="spacingAndGlyphs">Cell viability</text>
<line x1="50.40" y1="306.60" x2="53.40" y2="306.60" stroke="#000" stroke-width="0.9" />
<text x="47.40" y="309.40" font-size="8.7" fill="#231f20" stroke="#231f20" stroke-width="0.1" text-anchor="end" textLength="4.5" lengthAdjust="spacingAndGlyphs" >0</text>
<line x1="50.40" y1="279.45" x2="53.40" y2="279.45" stroke="#000" stroke-width="0.9" />
<text x="47.40" y="282.25" font-size="8.7" fill="#231f20" stroke="#231f20" stroke-width="0.1" text-anchor="end" textLength="9.0" lengthAdjust="spacingAndGlyphs" >10</text>
<line x1="50.40" y1="252.30" x2="53.40" y2="252.30" stroke="#000" stroke-width="0.9" />
<text x="47.40" y="255.10" font-size="8.7" fill="#231f20" stroke="#231f20" stroke-width="0.1" text-anchor="end" textLength="9.0" lengthAdjust="spacingAndGlyphs" >20</text>
<line x1="50.40" y1="225.15" x2="53.40" y2="225.15" stroke="#000" stroke-width="0.9" />
<text x="47.40" y="227.95" font-size="8.7" fill="#231f20" stroke="#231f20" stroke-width="0.1" text-anchor="end" textLength="9.0" lengthAdjust="spacingAndGlyphs" >30</text>
<line x1="50.40" y1="198.00" x2="53.40" y2="198.00" stroke="#000" stroke-width="0.9" />
<text x="47.40" y="200.80" font-size="8.7" fill="#231f20" stroke="#231f20" stroke-width="0.1" text-anchor="end" textLength="9.0" lengthAdjust="spacingAndGlyphs" >40</text>
<line x1="51.70" y1="293.03" x2="53.40" y2="293.03" stroke="#000" stroke-width="0.9" />
<line x1="51.70" y1="265.88" x2="53.40" y2="265.88" stroke="#000" stroke-width="0.9" />
<line x1="51.70" y1="238.73" x2="53.40" y2="238.73" stroke="#000" stroke-width="0.9" />
<line x1="51.70" y1="211.57" x2="53.40" y2="211.57" stroke="#000" stroke-width="0.9" />
<line x1="53.40" y1="306.60" x2="53.40" y2="309.60" stroke="#000" stroke-width="0.9" />
<text x="53.40" y="319.90" font-size="8.7" fill="#231f20" stroke="#231f20" stroke-width="0.1" text-anchor="middle" textLength="4.5" lengthAdjust="spacingAndGlyphs" >4</text>
<line x1="73.95" y1="306.60" x2="73.95" y2="309.60" stroke="#000" stroke-width="0.9" />
<text x="73.95" y="319.90" font-size="8.7" fill="#231f20" stroke="#231f20" stroke-width="0.1" text-anchor="middle" textLength="4.5" lengthAdjust="spacingAndGlyphs" >5</text>
<line x1="94.50" y1="306.60" x2="94.50" y2="309.60" stroke="#000" stroke-width="0.9" />
<text x="94.50" y="319.90" font-size="8.7" fill="#231f20" stroke="#231f20" stroke-width="0.1" text-anchor="middle" textLength="4.5" lengthAdjust="spacingAndGlyphs" >6</text>
<line x1="115.05" y1="306.60" x2="115.05" y2="309.60" stroke="#000" stroke-width="0.9" />
<text x="115.05" y="319.90" font-size="8.7" fill="#231f20" stroke="#231f20" stroke-width="0.1" text-anchor="middle" textLength="4.5" lengthAdjust="spacingAndGlyphs" >7</text>
<line x1="135.60" y1="306.60" x2="135.60" y2="309.60" stroke="#000" stroke-width="0.9" />
<text x="135.60" y="319.90" font-size="8.7" fill="#231f20" stroke="#231f20" stroke-width="0.1" text-anchor="middle" textLength="4.5" lengthAdjust="spacingAndGlyphs" >8</text>
<line x1="156.15" y1="306.60" x2="156.15" y2="309.60" stroke="#000" stroke-width="0.9" />
<text x="156.15" y="319.90" font-size="8.7" fill="#231f20" stroke="#231f20" stroke-width="0.1" text-anchor="middle" textLength="4.5" lengthAdjust="spacingAndGlyphs" >9</text>
<line x1="176.70" y1="306.60" x2="176.70" y2="309.60" stroke="#000" stroke-width="0.9" />
<text x="176.70" y="319.90" font-size="8.7" fill="#231f20" stroke="#231f20" stroke-width="0.1" text-anchor="middle" textLength="9.0" lengthAdjust="spacingAndGlyphs" >10</text>
<line x1="197.25" y1="306.60" x2="197.25" y2="309.60" stroke="#000" stroke-width="0.9" />
<text x="197.25" y="319.90" font-size="8.7" fill="#231f20" stroke="#231f20" stroke-width="0.1" text-anchor="middle" textLength="9.0" lengthAdjust="spacingAndGlyphs" >11</text>
<line x1="217.80" y1="306.60" x2="217.80" y2="309.60" stroke="#000" stroke-width="0.9" />
<text x="217.80" y="319.90" font-size="8.7" fill="#231f20" stroke="#231f20" stroke-width="0.1" text-anchor="middle" textLength="9.0" lengthAdjust="spacingAndGlyphs" >12</text>
<line x1="63.67" y1="306.60" x2="63.67" y2="308.40" stroke="#000" stroke-width="0.9" />
<line x1="84.22" y1="306.60" x2="84.22" y2="308.40" stroke="#000" stroke-width="0.9" />
<line x1="104.78" y1="306.60" x2="104.78" y2="308.40" stroke="#000" stroke-width="0.9" />
<line x1="125.32" y1="306.60" x2="125.32" y2="308.40" stroke="#000" stroke-width="0.9" />
<line x1="145.88" y1="306.60" x2="145.88" y2="308.40" stroke="#000" stroke-width="0.9" />
<line x1="166.43" y1="306.60" x2="166.43" y2="308.40" stroke="#000" stroke-width="0.9" />
<line x1="186.98" y1="306.60" x2="186.98" y2="308.40" stroke="#000" stroke-width="0.9" />
<line x1="207.53" y1="306.60" x2="207.53" y2="308.40" stroke="#000" stroke-width="0.9" />
<line x1="80.60" y1="183.38" x2="230.69" y2="183.38" stroke="#000" stroke-width="1.1" />
<line x1="80.60" y1="183.38" x2="80.60" y2="282.54" stroke="#000" stroke-width="1.1" />
<line x1="230.69" y1="183.38" x2="230.69" y2="282.54" stroke="#000" stroke-width="1.1" />
<line x1="53.40" y1="198.00" x2="80.60" y2="183.38" stroke="#000" stroke-width="1.1" />
<path d="M75.8,285.9 L76.2,285.8 L76.7,285.6 L77.2,285.5 L77.7,285.4 L78.1,285.4 L78.6,285.4 L79.1,285.4 L79.6,285.4 L80.1,285.5 L80.6,285.5 L81.1,285.5 L81.6,285.5 L82.1,285.4 L82.6,285.4 L83.0,285.3 L83.5,285.2 L84.0,285.2 L84.5,285.2 L85.0,285.2 L85.5,285.2 L86.0,285.2 L86.5,285.3 L87.0,285.4 L87.5,285.5 L87.9,285.6 L88.4,285.6 L88.9,285.7 L89.4,285.8 L89.9,285.9 L90.4,285.9 L90.9,285.9 L91.4,286.0 L91.9,286.0 L92.4,286.0 L92.8,286.0 L93.3,286.1 L93.8,286.1 L94.3,286.1 L94.8,286.1 L95.3,286.1 L95.8,286.1 L96.3,286.1 L96.8,286.1 L97.3,286.1 L97.7,286.1 L98.2,286.1 L98.7,286.0 L99.2,286.0 L99.7,285.9 L100.2,285.8 L100.7,285.6 L101.2,285.5 L101.7,285.3 L102.2,285.2 L102.6,285.0 L103.1,284.9 L103.6,284.8 L104.1,284.7 L104.6,284.8 L105.1,284.9 L105.6,285.0 L106.1,285.1 L106.6,285.3 L107.1,285.4 L107.5,285.6 L108.0,285.8 L108.5,286.0 L109.0,286.2 L109.5,286.4 L110.0,286.6 L110.5,286.7 L111.0,286.8 L111.5,286.8 L112.0,286.7 L112.4,286.7 L112.9,286.7 L113.4,286.7 L113.9,286.6 L114.4,286.5 L114.9,286.5 L115.4,286.4 L115.9,286.3 L116.4,286.2 L116.8,286.1 L117.3,285.9 L117.8,285.8 L118.3,285.6 L118.8,285.5 L119.3,285.4 L119.8,285.4 L120.3,285.4 L120.8,285.4 L121.3,285.5 L121.7,285.6 L122.2,285.7 L122.7,285.9 L123.2,286.0 L123.7,286.1 L124.2,286.2 L124.7,286.3 L125.2,286.3 L125.7,286.3 L126.2,286.3 L126.6,286.3 L127.1,286.2 L127.6,286.1 L128.1,286.0 L128.6,285.9 L129.1,285.9 L129.6,285.8 L130.1,285.8 L130.6,285.8 L131.1,285.9 L131.5,286.0 L132.0,286.1 L132.5,286.1 L133.0,285.9 L133.5,285.2 L134.0,283.6 L134.5,280.8 L135.0,276.3 L135.5,269.8 L136.0,261.5 L136.4,252.0 L136.9,243.1 L137.4,236.2 L137.9,232.8 L138.4,233.7 L138.9,238.5 L139.4,246.4 L139.9,255.5 L140.4,264.4 L140.9,271.9 L141.3,277.6 L141.8,281.4 L142.3,283.7 L142.8,285.0 L143.3,285.6 L143.8,285.9 L144.3,286.0 L144.8,286.1 L145.3,286.1 L145.8,286.2 L146.2,286.2 L146.7,286.3 L147.2,286.4 L147.7,286.5 L148.2,286.5 L148.7,286.5 L149.2,286.6 L149.7,286.6 L150.2,286.5 L150.7,286.4 L151.1,286.4 L151.6,286.3 L152.1,286.2 L152.6,286.1 L153.1,286.0 L153.6,286.0 L154.1,286.0 L154.6,286.0 L155.1,286.0 L155.6,286.0 L156.0,286.0 L156.5,286.0 L157.0,286.0 L157.5,286.0 L158.0,286.0 L158.5,286.0 L159.0,286.0 L159.5,286.1 L160.0,286.1 L160.5,286.2 L160.9,286.4 L161.4,286.5 L161.9,286.6 L162.4,286.7 L162.9,286.8 L163.4,286.8 L163.9,286.8 L164.4,286.8 L164.9,286.8 L165.4,286.8 L165.8,286.8 L166.3,286.8 L166.8,286.8 L167.3,286.8 L167.8,286.8 L168.3,286.8 L168.8,286.8 L169.3,286.8 L169.8,286.7 L170.3,286.7 L170.7,286.6 L171.2,286.5 L171.7,286.5 L172.2,286.4 L172.7,286.2 L173.2,285.9 L173.7,285.2 L174.2,283.8 L174.7,281.3 L175.2,277.0 L175.6,270.3 L176.1,261.0 L176.6,249.4 L177.1,236.3 L177.6,223.6 L178.1,213.6 L178.6,208.3 L179.1,208.9 L179.6,215.2 L180.1,225.9 L180.5,238.8 L181.0,251.8 L181.5,263.2 L182.0,272.0 L182.5,278.2 L183.0,282.1 L183.5,284.4 L184.0,285.6 L184.5,286.2 L185.0,286.5 L185.4,286.6 L185.9,286.7 L186.4,286.7 L186.9,286.8 L187.4,286.8 L187.9,286.8 L188.4,286.7 L188.9,286.7 L189.4,286.7 L189.9,286.7 L190.3,286.6 L190.8,286.6 L191.3,286.6 L191.8,286.6 L192.3,286.6 L192.8,286.6 L193.3,286.7 L193.8,286.7 L194.3,286.8 L194.8,286.8 L195.2,286.9 L195.7,286.9 L196.2,287.0 L196.7,287.0 L197.2,287.0 L197.7,287.0 L198.2,287.0 L198.7,286.9 L199.2,286.9 L199.7,286.9 L200.1,286.9 L200.6,286.8 L201.1,286.8 L201.6,286.8 L202.1,286.8 L202.6,286.8 L203.1,286.8 L203.6,286.8 L204.1,286.7 L204.5,286.7 L205.0,286.7 L205.5,286.7 L206.0,286.6 L206.5,286.6 L207.0,286.5 L207.5,286.3 L208.0,286.1 L208.5,285.7 L209.0,285.3 L209.4,284.9 L209.9,284.5 L210.4,284.4 L210.9,284.4 L211.4,284.7 L211.9,285.1 L212.4,285.6 L212.9,286.0 L213.4,286.4 L213.9,286.6 L214.3,286.7 L214.8,286.8 L215.3,286.9 L215.8,286.9 L216.3,286.9 L216.8,286.9 L217.3,286.9 L217.8,286.9 L218.3,286.9 L218.8,286.9 L219.2,286.9 L219.7,286.9 L220.2,286.9 L220.7,286.9 L221.2,286.9 L221.7,286.9 L222.2,286.9 L222.7,286.9 L223.2,286.9 L223.7,286.9 L224.1,286.9 L224.6,286.9 L225.1,287.0 L225.6,287.0 L226.1,286.9 L226.6,286.9 L227.1,286.9 L227.6,286.9 L228.1,286.8 L228.4,286.8" fill="none" stroke="#c4365a" stroke-width="1.2" stroke-linejoin="round"/>
<path d="M69.7,291.3 L69.8,291.3 L70.3,291.3 L70.8,291.4 L71.3,291.5 L71.8,291.5 L72.3,291.5 L72.8,291.5 L73.3,291.5 L73.8,291.4 L74.3,291.2 L74.8,291.0 L75.3,290.8 L75.8,290.5 L76.3,290.3 L76.8,290.2 L77.3,290.0 L77.8,289.9 L78.3,289.8 L78.8,289.8 L79.2,289.7 L79.7,289.7 L80.2,289.6 L80.7,289.6 L81.2,289.6 L81.7,289.7 L82.2,289.8 L82.7,289.8 L83.2,290.0 L83.7,290.1 L84.2,290.2 L84.7,290.3 L85.2,290.4 L85.7,290.4 L86.2,290.5 L86.7,290.5 L87.2,290.6 L87.7,290.6 L88.2,290.7 L88.7,290.8 L89.2,290.9 L89.7,291.0 L90.2,291.1 L90.7,291.3 L91.2,291.3 L91.7,291.4 L92.2,291.4 L92.7,291.3 L93.2,291.2 L93.7,291.0 L94.2,290.7 L94.7,290.5 L95.2,290.2 L95.7,290.0 L96.2,289.7 L96.7,289.5 L97.2,289.4 L97.7,289.2 L98.2,289.2 L98.7,289.1 L99.2,289.2 L99.7,289.3 L100.2,289.4 L100.7,289.6 L101.2,289.8 L101.7,289.9 L102.2,290.1 L102.7,290.3 L103.2,290.5 L103.7,290.7 L104.2,291.0 L104.7,291.2 L105.2,291.3 L105.7,291.5 L106.2,291.5 L106.7,291.5 L107.2,291.5 L107.7,291.4 L108.2,291.3 L108.7,291.2 L109.2,291.1 L109.7,290.9 L110.2,290.8 L110.7,290.7 L111.2,290.6 L111.7,290.5 L112.2,290.4 L112.7,290.3 L113.2,290.3 L113.7,290.2 L114.2,290.2 L114.7,290.2 L115.2,290.3 L115.7,290.3 L116.2,290.4 L116.7,290.5 L117.2,290.5 L117.7,290.6 L118.2,290.6 L118.7,290.6 L119.2,290.6 L119.7,290.6 L120.2,290.6 L120.7,290.6 L121.2,290.7 L121.7,290.6 L122.2,290.6 L122.7,290.6 L123.2,290.5 L123.7,290.5 L124.2,290.4 L124.7,290.4 L125.2,290.3 L125.7,290.3 L126.2,290.3 L126.7,290.4 L127.2,290.4 L127.7,290.4 L128.2,290.4 L128.7,290.1 L129.2,289.2 L129.7,287.5 L130.2,284.5 L130.7,279.6 L131.2,272.6 L131.7,263.8 L132.2,253.9 L132.7,244.4 L133.2,237.1 L133.7,233.4 L134.2,234.4 L134.7,239.6 L135.1,248.0 L135.6,257.8 L136.1,267.3 L136.6,275.4 L137.1,281.5 L137.6,285.7 L138.1,288.2 L138.6,289.6 L139.1,290.4 L139.6,290.7 L140.1,290.9 L140.6,290.9 L141.1,291.0 L141.6,291.0 L142.1,291.0 L142.6,291.1 L143.1,291.2 L143.6,291.2 L144.1,291.3 L144.6,291.3 L145.1,291.3 L145.6,291.3 L146.1,291.3 L146.6,291.3 L147.1,291.2 L147.6,291.2 L148.1,291.1 L148.6,291.1 L149.1,291.1 L149.6,291.1 L150.1,291.1 L150.6,291.1 L151.1,291.0 L151.6,291.0 L152.1,291.0 L152.6,290.9 L153.1,290.9 L153.6,290.9 L154.1,290.8 L154.6,290.8 L155.1,290.8 L155.6,290.8 L156.1,290.8 L156.6,290.8 L157.1,290.8 L157.6,290.9 L158.1,290.9 L158.6,290.9 L159.1,290.9 L159.6,290.9 L160.1,290.9 L160.6,290.9 L161.1,290.9 L161.6,291.0 L162.1,291.0 L162.6,291.1 L163.1,291.1 L163.6,291.2 L164.1,291.2 L164.6,291.2 L165.1,291.2 L165.6,291.2 L166.1,291.2 L166.6,291.2 L167.1,291.2 L167.6,291.2 L168.1,291.2 L168.6,291.1 L169.1,291.0 L169.6,290.8 L170.1,290.3 L170.6,289.4 L171.1,287.4 L171.6,284.0 L172.1,278.4 L172.6,270.3 L173.1,259.6 L173.6,246.9 L174.1,233.8 L174.6,222.5 L175.1,215.1 L175.6,213.3 L176.1,217.4 L176.6,226.5 L177.1,238.8 L177.6,251.9 L178.1,264.0 L178.6,273.8 L179.1,281.0 L179.6,285.7 L180.1,288.5 L180.6,290.0 L181.1,290.7 L181.6,291.0 L182.1,291.1 L182.6,291.1 L183.1,291.1 L183.6,291.0 L184.1,291.0 L184.6,291.1 L185.1,291.1 L185.6,291.1 L186.1,291.2 L186.6,291.3 L187.1,291.3 L187.6,291.4 L188.1,291.4 L188.6,291.4 L189.1,291.4 L189.6,291.4 L190.1,291.5 L190.5,291.5 L191.0,291.5 L191.5,291.6 L192.0,291.6 L192.5,291.6 L193.0,291.6 L193.5,291.7 L194.0,291.7 L194.5,291.6 L195.0,291.6 L195.5,291.5 L196.0,291.5 L196.5,291.4 L197.0,291.4 L197.5,291.4 L198.0,291.3 L198.5,291.3 L199.0,291.3 L199.5,291.3 L200.0,291.3 L200.5,291.3 L201.0,291.3 L201.5,291.3 L202.0,291.2 L202.5,291.2 L203.0,291.2 L203.5,291.2 L204.0,291.2 L204.5,291.2 L205.0,291.2 L205.5,291.2 L206.0,291.3 L206.5,291.3 L207.0,291.3 L207.5,291.3 L208.0,291.3 L208.5,291.3 L209.0,291.3 L209.5,291.3 L210.0,291.4 L210.5,291.4 L211.0,291.5 L211.5,291.5 L212.0,291.5 L212.5,291.6 L213.0,291.6 L213.5,291.6 L214.0,291.6 L214.5,291.6 L215.0,291.6 L215.5,291.6 L216.0,291.5 L216.5,291.5 L217.0,291.5 L217.5,291.5 L218.0,291.5 L218.5,291.5 L219.0,291.5 L219.5,291.5 L220.0,291.5 L220.5,291.5 L221.0,291.5 L221.5,291.5 L222.0,291.5 L222.5,291.5 L223.0,291.5 L223.5,291.5 L224.0,291.5 L224.5,291.4 L225.0,291.4 L225.5,291.4 L226.0,291.3" fill="none" stroke="#e89a34" stroke-width="1.2" stroke-linejoin="round"/>
<path d="M64.8,295.6 L64.8,295.6 L65.3,295.6 L65.9,295.7 L66.4,295.7 L66.9,295.7 L67.4,295.7 L67.9,295.7 L68.4,295.7 L68.9,295.7 L69.4,295.7 L69.9,295.6 L70.4,295.6 L70.9,295.5 L71.4,295.4 L72.0,295.4 L72.5,295.3 L73.0,295.2 L73.5,295.2 L74.0,295.1 L74.5,295.1 L75.0,295.2 L75.5,295.2 L76.0,295.2 L76.5,295.3 L77.0,295.4 L77.5,295.5 L78.1,295.6 L78.6,295.8 L79.1,295.9 L79.6,296.0 L80.1,296.1 L80.6,296.2 L81.1,296.3 L81.6,296.3 L82.1,296.3 L82.6,296.3 L83.1,296.2 L83.6,296.1 L84.2,296.0 L84.7,295.8 L85.2,295.6 L85.7,295.5 L86.2,295.4 L86.7,295.3 L87.2,295.3 L87.7,295.3 L88.2,295.2 L88.7,295.1 L89.2,295.0 L89.7,294.9 L90.2,294.8 L90.8,294.6 L91.3,294.5 L91.8,294.3 L92.3,294.2 L92.8,294.1 L93.3,294.0 L93.8,294.0 L94.3,294.2 L94.8,294.3 L95.3,294.6 L95.8,294.8 L96.3,295.0 L96.9,295.2 L97.4,295.3 L97.9,295.4 L98.4,295.5 L98.9,295.6 L99.4,295.7 L99.9,295.8 L100.4,295.8 L100.9,295.9 L101.4,295.9 L101.9,295.9 L102.4,295.9 L103.0,295.9 L103.5,295.9 L104.0,295.9 L104.5,295.9 L105.0,295.8 L105.5,295.8 L106.0,295.7 L106.5,295.6 L107.0,295.6 L107.5,295.5 L108.0,295.4 L108.5,295.4 L109.1,295.3 L109.6,295.3 L110.1,295.4 L110.6,295.4 L111.1,295.5 L111.6,295.5 L112.1,295.6 L112.6,295.6 L113.1,295.5 L113.6,295.4 L114.1,295.3 L114.6,295.2 L115.2,295.1 L115.7,295.0 L116.2,295.0 L116.7,295.0 L117.2,295.0 L117.7,295.0 L118.2,295.1 L118.7,295.1 L119.2,295.2 L119.7,295.3 L120.2,295.3 L120.7,295.3 L121.3,295.4 L121.8,295.4 L122.3,295.4 L122.8,295.4 L123.3,295.3 L123.8,295.1 L124.3,294.6 L124.8,293.5 L125.3,291.2 L125.8,287.3 L126.3,281.1 L126.8,272.3 L127.4,261.1 L127.9,248.6 L128.4,236.6 L128.9,227.3 L129.4,222.8 L129.9,223.9 L130.4,230.6 L130.9,241.2 L131.4,253.7 L131.9,265.8 L132.4,276.1 L132.9,283.9 L133.5,289.2 L134.0,292.5 L134.5,294.4 L135.0,295.3 L135.5,295.8 L136.0,296.0 L136.5,296.1 L137.0,296.1 L137.5,296.1 L138.0,296.1 L138.5,296.0 L139.0,296.0 L139.6,296.0 L140.1,295.9 L140.6,295.9 L141.1,295.9 L141.6,295.9 L142.1,295.9 L142.6,295.8 L143.1,295.8 L143.6,295.7 L144.1,295.6 L144.6,295.6 L145.1,295.6 L145.7,295.5 L146.2,295.5 L146.7,295.5 L147.2,295.6 L147.7,295.6 L148.2,295.7 L148.7,295.7 L149.2,295.8 L149.7,295.8 L150.2,295.9 L150.7,295.9 L151.2,295.9 L151.8,295.9 L152.3,295.9 L152.8,295.9 L153.3,295.9 L153.8,296.0 L154.3,296.0 L154.8,296.0 L155.3,296.0 L155.8,296.0 L156.3,296.0 L156.8,296.0 L157.3,296.1 L157.8,296.1 L158.4,296.1 L158.9,296.2 L159.4,296.2 L159.9,296.2 L160.4,296.2 L160.9,296.2 L161.4,296.2 L161.9,296.2 L162.4,296.2 L162.9,296.1 L163.4,296.1 L163.9,296.0 L164.5,295.9 L165.0,295.7 L165.5,295.2 L166.0,294.1 L166.5,292.2 L167.0,288.7 L167.5,283.0 L168.0,274.8 L168.5,263.8 L169.0,251.0 L169.5,237.6 L170.0,225.9 L170.6,218.2 L171.1,216.1 L171.6,220.0 L172.1,229.2 L172.6,241.7 L173.1,255.2 L173.6,267.7 L174.1,277.9 L174.6,285.5 L175.1,290.4 L175.6,293.4 L176.1,295.1 L176.7,295.8 L177.2,296.1 L177.7,296.2 L178.2,296.1 L178.7,296.1 L179.2,296.0 L179.7,295.9 L180.2,295.9 L180.7,295.8 L181.2,295.8 L181.7,295.8 L182.2,295.8 L182.8,295.8 L183.3,295.8 L183.8,295.8 L184.3,295.8 L184.8,295.8 L185.3,295.8 L185.8,295.8 L186.3,295.8 L186.8,295.8 L187.3,295.8 L187.8,295.8 L188.3,295.8 L188.9,295.8 L189.4,295.8 L189.9,295.8 L190.4,295.8 L190.9,295.8 L191.4,295.8 L191.9,295.8 L192.4,295.9 L192.9,295.9 L193.4,295.9 L193.9,295.9 L194.4,295.9 L195.0,296.0 L195.5,296.0 L196.0,296.0 L196.5,296.0 L197.0,296.0 L197.5,295.9 L198.0,295.9 L198.5,295.9 L199.0,295.9 L199.5,295.9 L200.0,295.9 L200.5,295.9 L201.1,295.9 L201.6,296.0 L202.1,296.0 L202.6,296.1 L203.1,296.1 L203.6,296.1 L204.1,296.2 L204.6,296.2 L205.1,296.2 L205.6,296.2 L206.1,296.2 L206.6,296.2 L207.2,296.2 L207.7,296.2 L208.2,296.2 L208.7,296.2 L209.2,296.2 L209.7,296.2 L210.2,296.2 L210.7,296.2 L211.2,296.2 L211.7,296.2 L212.2,296.3 L212.7,296.3 L213.3,296.3 L213.8,296.3 L214.3,296.3 L214.8,296.3 L215.3,296.4 L215.8,296.4 L216.3,296.4 L216.8,296.5 L217.3,296.5 L217.8,296.6 L218.3,296.6 L218.8,296.7 L219.3,296.7 L219.9,296.7 L220.4,296.7 L220.9,296.7 L221.4,296.6 L221.9,296.5 L222.4,296.4 L222.9,296.3 L223.4,296.1" fill="none" stroke="#f0c84c" stroke-width="1.2" stroke-linejoin="round"/>
<path d="M59.3,300.5 L59.4,300.5 L59.9,300.6 L60.4,300.7 L61.0,300.8 L61.5,300.8 L62.0,300.8 L62.5,300.8 L63.0,300.8 L63.5,300.7 L64.1,300.6 L64.6,300.5 L65.1,300.4 L65.6,300.3 L66.1,300.2 L66.7,300.1 L67.2,300.0 L67.7,299.9 L68.2,299.8 L68.7,299.7 L69.2,299.5 L69.8,299.4 L70.3,299.4 L70.8,299.3 L71.3,299.4 L71.8,299.4 L72.3,299.5 L72.9,299.7 L73.4,299.8 L73.9,300.0 L74.4,300.1 L74.9,300.2 L75.4,300.3 L76.0,300.3 L76.5,300.2 L77.0,300.0 L77.5,299.8 L78.0,299.5 L78.6,299.1 L79.1,298.8 L79.6,298.5 L80.1,298.3 L80.6,298.3 L81.1,298.4 L81.7,298.7 L82.2,299.0 L82.7,299.4 L83.2,299.7 L83.7,300.0 L84.2,300.2 L84.8,300.3 L85.3,300.3 L85.8,300.4 L86.3,300.4 L86.8,300.4 L87.3,300.4 L87.9,300.4 L88.4,300.4 L88.9,300.4 L89.4,300.3 L89.9,300.3 L90.5,300.3 L91.0,300.3 L91.5,300.3 L92.0,300.3 L92.5,300.3 L93.0,300.3 L93.6,300.3 L94.1,300.3 L94.6,300.3 L95.1,300.3 L95.6,300.3 L96.1,300.3 L96.7,300.3 L97.2,300.3 L97.7,300.3 L98.2,300.3 L98.7,300.3 L99.2,300.2 L99.8,300.2 L100.3,300.2 L100.8,300.1 L101.3,300.0 L101.8,299.9 L102.4,299.9 L102.9,299.9 L103.4,299.9 L103.9,300.1 L104.4,300.3 L104.9,300.5 L105.5,300.7 L106.0,300.9 L106.5,301.0 L107.0,301.1 L107.5,301.2 L108.0,301.2 L108.6,301.2 L109.1,301.2 L109.6,301.2 L110.1,301.1 L110.6,301.1 L111.2,301.1 L111.7,301.0 L112.2,301.0 L112.7,301.1 L113.2,301.1 L113.7,301.1 L114.3,301.1 L114.8,301.1 L115.3,301.1 L115.8,301.1 L116.3,301.2 L116.8,301.2 L117.4,301.2 L117.9,301.1 L118.4,301.0 L118.9,300.9 L119.4,300.6 L119.9,300.1 L120.5,299.3 L121.0,297.7 L121.5,295.2 L122.0,291.3 L122.5,285.8 L123.1,278.8 L123.6,271.1 L124.1,263.6 L124.6,257.8 L125.1,254.9 L125.6,255.7 L126.2,259.8 L126.7,266.4 L127.2,274.2 L127.7,281.7 L128.2,288.1 L128.7,293.0 L129.3,296.2 L129.8,298.3 L130.3,299.4 L130.8,299.9 L131.3,300.2 L131.8,300.3 L132.4,300.4 L132.9,300.4 L133.4,300.4 L133.9,300.4 L134.4,300.4 L135.0,300.4 L135.5,300.4 L136.0,300.4 L136.5,300.4 L137.0,300.4 L137.5,300.4 L138.1,300.4 L138.6,300.4 L139.1,300.4 L139.6,300.4 L140.1,300.4 L140.6,300.4 L141.2,300.4 L141.7,300.4 L142.2,300.4 L142.7,300.5 L143.2,300.5 L143.7,300.6 L144.3,300.7 L144.8,300.7 L145.3,300.8 L145.8,300.9 L146.3,301.0 L146.9,301.0 L147.4,301.0 L147.9,301.0 L148.4,300.9 L148.9,300.8 L149.4,300.8 L150.0,300.7 L150.5,300.6 L151.0,300.5 L151.5,300.5 L152.0,300.5 L152.5,300.5 L153.1,300.5 L153.6,300.5 L154.1,300.5 L154.6,300.6 L155.1,300.6 L155.6,300.6 L156.2,300.6 L156.7,300.6 L157.2,300.6 L157.7,300.7 L158.2,300.7 L158.8,300.8 L159.3,300.9 L159.8,300.9 L160.3,301.0 L160.8,301.0 L161.3,300.9 L161.9,300.6 L162.4,299.8 L162.9,298.2 L163.4,295.3 L163.9,290.4 L164.4,283.0 L165.0,272.7 L165.5,260.0 L166.0,246.1 L166.5,233.1 L167.0,223.2 L167.6,218.5 L168.1,220.2 L168.6,227.7 L169.1,239.5 L169.6,253.3 L170.1,266.8 L170.7,278.4 L171.2,287.2 L171.7,293.3 L172.2,297.1 L172.7,299.3 L173.2,300.3 L173.8,300.8 L174.3,300.9 L174.8,300.9 L175.3,300.9 L175.8,300.8 L176.3,300.7 L176.9,300.7 L177.4,300.7 L177.9,300.7 L178.4,300.7 L178.9,300.8 L179.5,300.9 L180.0,301.0 L180.5,301.0 L181.0,301.1 L181.5,301.1 L182.0,301.2 L182.6,301.2 L183.1,301.2 L183.6,301.2 L184.1,301.2 L184.6,301.2 L185.1,301.3 L185.7,301.3 L186.2,301.3 L186.7,301.3 L187.2,301.3 L187.7,301.3 L188.2,301.3 L188.8,301.2 L189.3,301.2 L189.8,301.1 L190.3,301.0 L190.8,301.0 L191.4,300.9 L191.9,300.9 L192.4,300.9 L192.9,300.9 L193.4,300.8 L193.9,300.8 L194.5,300.7 L195.0,300.4 L195.5,299.8 L196.0,298.8 L196.5,297.0 L197.0,294.3 L197.6,290.5 L198.1,285.4 L198.6,279.3 L199.1,272.6 L199.6,265.9 L200.1,260.2 L200.7,256.4 L201.2,255.0 L201.7,256.3 L202.2,260.1 L202.7,265.8 L203.3,272.4 L203.8,279.2 L204.3,285.4 L204.8,290.5 L205.3,294.4 L205.8,297.2 L206.4,299.0 L206.9,300.1 L207.4,300.7 L207.9,301.1 L208.4,301.2 L208.9,301.2 L209.5,301.2 L210.0,301.2 L210.5,301.1 L211.0,301.1 L211.5,301.1 L212.0,301.1 L212.6,301.1 L213.1,301.1 L213.6,301.1 L214.1,301.2 L214.6,301.2 L215.2,301.3 L215.7,301.3 L216.2,301.4 L216.7,301.4 L217.2,301.4 L217.7,301.4 L218.3,301.4 L218.8,301.4 L219.3,301.4 L219.8,301.4 L220.3,301.4 L220.6,301.4" fill="none" stroke="#6ab04c" stroke-width="1.2" stroke-linejoin="round"/>
<line x1="80.60" y1="282.54" x2="230.69" y2="282.54" stroke="#2a2a2a" stroke-width="1.1" />
<line x1="53.40" y1="198.00" x2="53.40" y2="307.10" stroke="#000" stroke-width="1.2" />
<line x1="52.90" y1="306.60" x2="217.80" y2="306.60" stroke="#000" stroke-width="1.2" />
<line x1="53.40" y1="306.60" x2="80.60" y2="282.54" stroke="#000" stroke-width="1.1" />
<line x1="217.80" y1="306.60" x2="230.69" y2="282.54" stroke="#000" stroke-width="1.1" />
<rect x="58.50" y="196.6" width="70" height="44.5" fill="#fff"/>
<line x1="59.60" y1="202.40" x2="75.00" y2="202.40" stroke="#6ab04c" stroke-width="1.3" />
<text x="78.50" y="205.10" font-size="8.5" fill="#231f20" stroke="#231f20" stroke-width="0.25" text-anchor="start" textLength="25.8" lengthAdjust="spacingAndGlyphs" >Control</text>
<line x1="59.60" y1="213.85" x2="75.00" y2="213.85" stroke="#f0c84c" stroke-width="1.3" />
<text x="78.50" y="216.55" font-size="8.5" fill="#231f20" stroke="#231f20" stroke-width="0.25" text-anchor="start" textLength="28.6" lengthAdjust="spacingAndGlyphs" >Warfarin</text>
<line x1="59.60" y1="225.30" x2="75.00" y2="225.30" stroke="#e89a34" stroke-width="1.3" />
<text x="78.50" y="228.00" font-size="8.5" fill="#231f20" stroke="#231f20" stroke-width="0.25" text-anchor="start" textLength="45.4" lengthAdjust="spacingAndGlyphs" >Nitazoxanide</text>
<line x1="59.60" y1="236.75" x2="75.00" y2="236.75" stroke="#c4365a" stroke-width="1.3" />
<text x="78.50" y="239.45" font-size="8.5" fill="#231f20" stroke="#231f20" stroke-width="0.25" text-anchor="start" textLength="45.3" lengthAdjust="spacingAndGlyphs" >Lansoprazole</text>
<text x="127.80" y="216.10" font-size="8.5" fill="#231f20" stroke="#231f20" stroke-width="0.25" text-anchor="start" textLength="10.9" lengthAdjust="spacingAndGlyphs" >KO</text>
<text x="161.00" y="200.80" font-size="8.8" fill="#231f20" stroke="#231f20" stroke-width="0.25" text-anchor="start" textLength="31.3" lengthAdjust="spacingAndGlyphs" >Standard</text>
<text x="199.20" y="242.70" font-size="8.5" fill="#b0062e" stroke="#b0062e" stroke-width="0.25" text-anchor="start" textLength="5.1" lengthAdjust="spacingAndGlyphs" >K</text>
<text x="123.20" y="334.10" font-size="9.7" fill="#231f20" stroke="#231f20" stroke-width="0.25" text-anchor="start" textLength="37.9" lengthAdjust="spacingAndGlyphs" >Time (min)</text>
<text transform="translate(32.6,257.0) rotate(-90)" font-size="10" fill="#231f20" stroke="#231f20" stroke-width="0.25" textLength="24" lengthAdjust="spacingAndGlyphs">mVolts</text>
<line x1="272.60" y1="306.80" x2="275.60" y2="306.80" stroke="#000" stroke-width="0.9" />
<text x="269.60" y="309.60" font-size="8.7" fill="#231f20" stroke="#231f20" stroke-width="0.1" text-anchor="end" textLength="4.5" lengthAdjust="spacingAndGlyphs" >0</text>
<line x1="272.60" y1="279.95" x2="275.60" y2="279.95" stroke="#000" stroke-width="0.9" />
<text x="269.60" y="282.75" font-size="8.7" fill="#231f20" stroke="#231f20" stroke-width="0.1" text-anchor="end" textLength="9.0" lengthAdjust="spacingAndGlyphs" >10</text>
<line x1="272.60" y1="253.10" x2="275.60" y2="253.10" stroke="#000" stroke-width="0.9" />
<text x="269.60" y="255.90" font-size="8.7" fill="#231f20" stroke="#231f20" stroke-width="0.1" text-anchor="end" textLength="9.0" lengthAdjust="spacingAndGlyphs" >20</text>
<line x1="272.60" y1="226.25" x2="275.60" y2="226.25" stroke="#000" stroke-width="0.9" />
<text x="269.60" y="229.05" font-size="8.7" fill="#231f20" stroke="#231f20" stroke-width="0.1" text-anchor="end" textLength="9.0" lengthAdjust="spacingAndGlyphs" >30</text>
<line x1="272.60" y1="199.40" x2="275.60" y2="199.40" stroke="#000" stroke-width="0.9" />
<text x="269.60" y="202.20" font-size="8.7" fill="#231f20" stroke="#231f20" stroke-width="0.1" text-anchor="end" textLength="9.0" lengthAdjust="spacingAndGlyphs" >40</text>
<line x1="273.90" y1="293.38" x2="275.60" y2="293.38" stroke="#000" stroke-width="0.9" />
<line x1="273.90" y1="266.53" x2="275.60" y2="266.53" stroke="#000" stroke-width="0.9" />
<line x1="273.90" y1="239.68" x2="275.60" y2="239.68" stroke="#000" stroke-width="0.9" />
<line x1="273.90" y1="212.82" x2="275.60" y2="212.82" stroke="#000" stroke-width="0.9" />
<line x1="275.60" y1="306.80" x2="275.60" y2="309.80" stroke="#000" stroke-width="0.9" />
<text x="275.60" y="320.10" font-size="8.7" fill="#231f20" stroke="#231f20" stroke-width="0.1" text-anchor="middle" textLength="4.5" lengthAdjust="spacingAndGlyphs" >4</text>
<line x1="296.33" y1="306.80" x2="296.33" y2="309.80" stroke="#000" stroke-width="0.9" />
<text x="296.33" y="320.10" font-size="8.7" fill="#231f20" stroke="#231f20" stroke-width="0.1" text-anchor="middle" textLength="4.5" lengthAdjust="spacingAndGlyphs" >5</text>
<line x1="317.05" y1="306.80" x2="317.05" y2="309.80" stroke="#000" stroke-width="0.9" />
<text x="317.05" y="320.10" font-size="8.7" fill="#231f20" stroke="#231f20" stroke-width="0.1" text-anchor="middle" textLength="4.5" lengthAdjust="spacingAndGlyphs" >6</text>
<line x1="337.77" y1="306.80" x2="337.77" y2="309.80" stroke="#000" stroke-width="0.9" />
<text x="337.77" y="320.10" font-size="8.7" fill="#231f20" stroke="#231f20" stroke-width="0.1" text-anchor="middle" textLength="4.5" lengthAdjust="spacingAndGlyphs" >7</text>
<line x1="358.50" y1="306.80" x2="358.50" y2="309.80" stroke="#000" stroke-width="0.9" />
<text x="358.50" y="320.10" font-size="8.7" fill="#231f20" stroke="#231f20" stroke-width="0.1" text-anchor="middle" textLength="4.5" lengthAdjust="spacingAndGlyphs" >8</text>
<line x1="379.23" y1="306.80" x2="379.23" y2="309.80" stroke="#000" stroke-width="0.9" />
<text x="379.23" y="320.10" font-size="8.7" fill="#231f20" stroke="#231f20" stroke-width="0.1" text-anchor="middle" textLength="4.5" lengthAdjust="spacingAndGlyphs" >9</text>
<line x1="399.95" y1="306.80" x2="399.95" y2="309.80" stroke="#000" stroke-width="0.9" />
<text x="399.95" y="320.10" font-size="8.7" fill="#231f20" stroke="#231f20" stroke-width="0.1" text-anchor="middle" textLength="9.0" lengthAdjust="spacingAndGlyphs" >10</text>
<line x1="420.67" y1="306.80" x2="420.67" y2="309.80" stroke="#000" stroke-width="0.9" />
<text x="420.67" y="320.10" font-size="8.7" fill="#231f20" stroke="#231f20" stroke-width="0.1" text-anchor="middle" textLength="9.0" lengthAdjust="spacingAndGlyphs" >11</text>
<line x1="441.40" y1="306.80" x2="441.40" y2="309.80" stroke="#000" stroke-width="0.9" />
<text x="441.40" y="320.10" font-size="8.7" fill="#231f20" stroke="#231f20" stroke-width="0.1" text-anchor="middle" textLength="9.0" lengthAdjust="spacingAndGlyphs" >12</text>
<line x1="285.96" y1="306.80" x2="285.96" y2="308.60" stroke="#000" stroke-width="0.9" />
<line x1="306.69" y1="306.80" x2="306.69" y2="308.60" stroke="#000" stroke-width="0.9" />
<line x1="327.41" y1="306.80" x2="327.41" y2="308.60" stroke="#000" stroke-width="0.9" />
<line x1="348.14" y1="306.80" x2="348.14" y2="308.60" stroke="#000" stroke-width="0.9" />
<line x1="368.86" y1="306.80" x2="368.86" y2="308.60" stroke="#000" stroke-width="0.9" />
<line x1="389.59" y1="306.80" x2="389.59" y2="308.60" stroke="#000" stroke-width="0.9" />
<line x1="410.31" y1="306.80" x2="410.31" y2="308.60" stroke="#000" stroke-width="0.9" />
<line x1="431.04" y1="306.80" x2="431.04" y2="308.60" stroke="#000" stroke-width="0.9" />
<line x1="302.43" y1="184.75" x2="453.81" y2="184.75" stroke="#000" stroke-width="1.1" />
<line x1="302.43" y1="184.75" x2="302.43" y2="282.81" stroke="#000" stroke-width="1.1" />
<line x1="453.81" y1="184.75" x2="453.81" y2="282.81" stroke="#000" stroke-width="1.1" />
<line x1="275.60" y1="199.40" x2="302.43" y2="184.75" stroke="#000" stroke-width="1.1" />
<path d="M298.4,285.5 L298.6,285.5 L299.1,285.5 L299.6,285.5 L300.1,285.5 L300.6,285.6 L301.1,285.7 L301.6,285.9 L302.1,286.1 L302.5,286.3 L303.0,286.5 L303.5,286.7 L304.0,286.8 L304.5,286.8 L305.0,286.7 L305.5,286.6 L306.0,286.5 L306.5,286.3 L307.0,286.2 L307.5,286.1 L308.0,286.0 L308.5,286.0 L309.0,286.0 L309.5,286.0 L310.0,286.1 L310.5,286.1 L310.9,286.1 L311.4,286.1 L311.9,286.0 L312.4,285.9 L312.9,285.8 L313.4,285.7 L313.9,285.7 L314.4,285.7 L314.9,285.7 L315.4,285.7 L315.9,285.6 L316.4,285.5 L316.9,285.3 L317.4,285.1 L317.9,284.7 L318.4,284.4 L318.9,284.0 L319.3,283.7 L319.8,283.5 L320.3,283.5 L320.8,283.6 L321.3,283.9 L321.8,284.3 L322.3,284.7 L322.8,285.1 L323.3,285.4 L323.8,285.6 L324.3,285.8 L324.8,286.0 L325.3,286.1 L325.8,286.2 L326.3,286.2 L326.8,286.1 L327.3,285.9 L327.7,285.5 L328.2,285.0 L328.7,284.3 L329.2,283.6 L329.7,282.9 L330.2,282.4 L330.7,282.3 L331.2,282.4 L331.7,282.9 L332.2,283.5 L332.7,284.2 L333.2,284.8 L333.7,285.3 L334.2,285.7 L334.7,285.9 L335.2,286.0 L335.7,286.0 L336.1,286.0 L336.6,285.9 L337.1,285.8 L337.6,285.7 L338.1,285.6 L338.6,285.6 L339.1,285.5 L339.6,285.5 L340.1,285.6 L340.6,285.6 L341.1,285.7 L341.6,285.8 L342.1,285.9 L342.6,286.0 L343.1,286.1 L343.6,286.2 L344.1,286.3 L344.5,286.4 L345.0,286.5 L345.5,286.7 L346.0,286.8 L346.5,286.9 L347.0,287.0 L347.5,287.0 L348.0,287.0 L348.5,287.0 L349.0,287.0 L349.5,286.9 L350.0,286.9 L350.5,286.8 L351.0,286.7 L351.5,286.7 L352.0,286.6 L352.5,286.6 L352.9,286.6 L353.4,286.6 L353.9,286.6 L354.4,286.6 L354.9,286.6 L355.4,286.6 L355.9,286.4 L356.4,286.2 L356.9,285.6 L357.4,284.5 L357.9,282.7 L358.4,280.0 L358.9,276.4 L359.4,272.0 L359.9,267.4 L360.4,263.4 L360.9,260.7 L361.3,259.9 L361.8,261.2 L362.3,264.4 L362.8,268.6 L363.3,273.1 L363.8,277.2 L364.3,280.5 L364.8,282.9 L365.3,284.4 L365.8,285.3 L366.3,285.7 L366.8,286.0 L367.3,286.1 L367.8,286.1 L368.3,286.1 L368.8,286.2 L369.3,286.2 L369.7,286.2 L370.2,286.2 L370.7,286.2 L371.2,286.2 L371.7,286.2 L372.2,286.2 L372.7,286.2 L373.2,286.3 L373.7,286.3 L374.2,286.4 L374.7,286.4 L375.2,286.5 L375.7,286.5 L376.2,286.6 L376.7,286.6 L377.2,286.6 L377.7,286.6 L378.1,286.6 L378.6,286.6 L379.1,286.6 L379.6,286.5 L380.1,286.5 L380.6,286.5 L381.1,286.4 L381.6,286.3 L382.1,286.3 L382.6,286.2 L383.1,286.1 L383.6,286.0 L384.1,286.0 L384.6,285.9 L385.1,285.9 L385.6,285.9 L386.1,285.9 L386.5,285.9 L387.0,286.0 L387.5,286.1 L388.0,286.2 L388.5,286.3 L389.0,286.5 L389.5,286.6 L390.0,286.7 L390.5,286.8 L391.0,286.9 L391.5,287.0 L392.0,287.0 L392.5,287.0 L393.0,287.1 L393.5,287.1 L394.0,287.1 L394.5,287.1 L394.9,287.1 L395.4,287.1 L395.9,287.1 L396.4,287.1 L396.9,287.0 L397.4,286.8 L397.9,286.4 L398.4,285.6 L398.9,284.1 L399.4,281.4 L399.9,276.9 L400.4,270.0 L400.9,260.4 L401.4,248.5 L401.9,235.3 L402.4,222.7 L402.9,213.0 L403.3,208.2 L403.8,209.4 L404.3,216.2 L404.8,227.2 L405.3,240.3 L405.8,253.2 L406.3,264.4 L406.8,273.0 L407.3,278.9 L407.8,282.7 L408.3,284.8 L408.8,285.9 L409.3,286.5 L409.8,286.7 L410.3,286.8 L410.8,286.9 L411.3,286.8 L411.7,286.8 L412.2,286.7 L412.7,286.6 L413.2,286.6 L413.7,286.5 L414.2,286.5 L414.7,286.5 L415.2,286.5 L415.7,286.5 L416.2,286.5 L416.7,286.6 L417.2,286.6 L417.7,286.7 L418.2,286.7 L418.7,286.8 L419.2,286.8 L419.7,286.8 L420.1,286.8 L420.6,286.8 L421.1,286.8 L421.6,286.8 L422.1,286.8 L422.6,286.8 L423.1,286.8 L423.6,286.8 L424.1,286.8 L424.6,286.8 L425.1,286.8 L425.6,286.8 L426.1,286.9 L426.6,286.9 L427.1,286.9 L427.6,286.9 L428.1,286.8 L428.5,286.6 L429.0,286.2 L429.5,285.6 L430.0,284.8 L430.5,283.5 L431.0,281.9 L431.5,279.8 L432.0,277.2 L432.5,274.5 L433.0,271.6 L433.5,269.0 L434.0,266.9 L434.5,265.5 L435.0,265.1 L435.5,265.6 L436.0,267.1 L436.5,269.3 L436.9,271.9 L437.4,274.8 L437.9,277.5 L438.4,280.0 L438.9,282.0 L439.4,283.7 L439.9,284.9 L440.4,285.8 L440.9,286.3 L441.4,286.7 L441.9,287.0 L442.4,287.1 L442.9,287.2 L443.4,287.2 L443.9,287.2 L444.4,287.2 L444.9,287.2 L445.3,287.2 L445.8,287.1 L446.3,287.1 L446.8,287.0 L447.3,287.0 L447.8,287.0 L448.3,287.0 L448.8,287.0 L449.3,286.9 L449.8,286.9 L450.3,286.8 L450.8,286.8 L451.3,286.7 L451.8,286.6 L451.8,286.6" fill="none" stroke="#c4365a" stroke-width="1.2" stroke-linejoin="round"/>
<path d="M292.1,291.1 L292.3,291.1 L292.8,291.3 L293.3,291.4 L293.8,291.5 L294.3,291.5 L294.8,291.5 L295.3,291.5 L295.8,291.4 L296.3,291.2 L296.8,291.1 L297.3,290.9 L297.8,290.7 L298.3,290.5 L298.8,290.3 L299.3,290.2 L299.8,290.1 L300.3,290.0 L300.8,289.9 L301.3,289.8 L301.8,289.7 L302.3,289.6 L302.8,289.6 L303.3,289.5 L303.8,289.6 L304.3,289.6 L304.8,289.7 L305.3,289.8 L305.8,290.0 L306.3,290.1 L306.8,290.3 L307.4,290.4 L307.9,290.5 L308.4,290.6 L308.9,290.6 L309.4,290.6 L309.9,290.6 L310.4,290.6 L310.9,290.4 L311.4,290.2 L311.9,290.0 L312.4,289.7 L312.9,289.3 L313.4,288.9 L313.9,288.5 L314.4,288.1 L314.9,288.0 L315.4,288.0 L315.9,288.1 L316.4,288.4 L316.9,288.8 L317.4,289.2 L317.9,289.7 L318.4,290.0 L318.9,290.3 L319.4,290.4 L319.9,290.5 L320.4,290.6 L320.9,290.6 L321.4,290.5 L321.9,290.3 L322.5,290.0 L323.0,289.6 L323.5,289.0 L324.0,288.3 L324.5,287.6 L325.0,287.0 L325.5,286.6 L326.0,286.7 L326.5,287.0 L327.0,287.6 L327.5,288.4 L328.0,289.2 L328.5,289.9 L329.0,290.5 L329.5,290.8 L330.0,290.9 L330.5,290.9 L331.0,290.7 L331.5,290.5 L332.0,290.3 L332.5,290.1 L333.0,289.9 L333.5,289.8 L334.0,289.7 L334.5,289.7 L335.0,289.7 L335.5,289.7 L336.0,289.8 L336.5,289.9 L337.0,290.0 L337.6,290.1 L338.1,290.2 L338.6,290.2 L339.1,290.4 L339.6,290.5 L340.1,290.7 L340.6,290.9 L341.1,291.2 L341.6,291.4 L342.1,291.6 L342.6,291.7 L343.1,291.8 L343.6,291.8 L344.1,291.8 L344.6,291.7 L345.1,291.6 L345.6,291.4 L346.1,291.3 L346.6,291.1 L347.1,291.0 L347.6,290.9 L348.1,290.9 L348.6,290.9 L349.1,290.9 L349.6,290.9 L350.1,290.9 L350.6,290.9 L351.1,290.8 L351.6,290.7 L352.2,290.4 L352.7,289.9 L353.2,288.8 L353.7,287.1 L354.2,284.5 L354.7,281.2 L355.2,277.0 L355.7,272.6 L356.2,268.7 L356.7,266.1 L357.2,265.4 L357.7,266.7 L358.2,269.8 L358.7,274.0 L359.2,278.4 L359.7,282.5 L360.2,285.7 L360.7,288.1 L361.2,289.6 L361.7,290.5 L362.2,290.9 L362.7,291.2 L363.2,291.3 L363.7,291.3 L364.2,291.3 L364.7,291.3 L365.2,291.3 L365.7,291.4 L366.2,291.4 L366.7,291.4 L367.3,291.4 L367.8,291.4 L368.3,291.4 L368.8,291.4 L369.3,291.3 L369.8,291.3 L370.3,291.2 L370.8,291.1 L371.3,291.1 L371.8,291.0 L372.3,291.0 L372.8,291.0 L373.3,291.0 L373.8,291.0 L374.3,291.1 L374.8,291.1 L375.3,291.2 L375.8,291.2 L376.3,291.2 L376.8,291.2 L377.3,291.1 L377.8,291.1 L378.3,291.0 L378.8,290.8 L379.3,290.7 L379.8,290.5 L380.3,290.4 L380.8,290.3 L381.3,290.2 L381.8,290.1 L382.4,290.1 L382.9,290.2 L383.4,290.3 L383.9,290.4 L384.4,290.5 L384.9,290.7 L385.4,290.9 L385.9,291.1 L386.4,291.2 L386.9,291.3 L387.4,291.4 L387.9,291.4 L388.4,291.5 L388.9,291.4 L389.4,291.4 L389.9,291.3 L390.4,291.3 L390.9,291.2 L391.4,291.2 L391.9,291.1 L392.4,291.1 L392.9,291.0 L393.4,290.8 L393.9,290.3 L394.4,289.2 L394.9,287.1 L395.4,283.5 L395.9,277.8 L396.4,269.4 L396.9,258.5 L397.5,245.7 L398.0,232.6 L398.5,221.5 L399.0,214.4 L399.5,212.9 L400.0,217.4 L400.5,226.8 L401.0,239.2 L401.5,252.5 L402.0,264.5 L402.5,274.2 L403.0,281.3 L403.5,285.9 L404.0,288.7 L404.5,290.2 L405.0,290.9 L405.5,291.3 L406.0,291.4 L406.5,291.5 L407.0,291.5 L407.5,291.5 L408.0,291.5 L408.5,291.4 L409.0,291.4 L409.5,291.3 L410.0,291.3 L410.5,291.3 L411.0,291.2 L411.5,291.2 L412.0,291.2 L412.6,291.2 L413.1,291.2 L413.6,291.3 L414.1,291.3 L414.6,291.3 L415.1,291.4 L415.6,291.4 L416.1,291.4 L416.6,291.4 L417.1,291.4 L417.6,291.4 L418.1,291.5 L418.6,291.5 L419.1,291.5 L419.6,291.6 L420.1,291.6 L420.6,291.6 L421.1,291.6 L421.6,291.6 L422.1,291.6 L422.6,291.7 L423.1,291.7 L423.6,291.7 L424.1,291.6 L424.6,291.5 L425.1,291.2 L425.6,290.7 L426.1,289.9 L426.6,288.7 L427.2,287.1 L427.7,284.9 L428.2,282.1 L428.7,278.8 L429.2,275.3 L429.7,271.7 L430.2,268.5 L430.7,266.0 L431.2,264.5 L431.7,264.1 L432.2,265.0 L432.7,267.1 L433.2,269.9 L433.7,273.3 L434.2,276.8 L434.7,280.2 L435.2,283.2 L435.7,285.6 L436.2,287.6 L436.7,289.0 L437.2,290.0 L437.7,290.7 L438.2,291.2 L438.7,291.5 L439.2,291.7 L439.7,291.9 L440.2,292.0 L440.7,292.0 L441.2,292.0 L441.7,292.0 L442.3,291.9 L442.8,291.9 L443.3,291.8 L443.8,291.7 L444.3,291.6 L444.8,291.5 L445.3,291.4 L445.8,291.4 L446.3,291.4 L446.8,291.4 L447.3,291.5 L447.8,291.6 L448.3,291.7 L448.8,291.8 L449.1,291.8" fill="none" stroke="#e89a34" stroke-width="1.2" stroke-linejoin="round"/>
<path d="M287.0,295.7 L287.4,295.8 L287.9,295.9 L288.4,296.0 L288.9,296.1 L289.5,296.1 L290.0,296.1 L290.5,296.0 L291.0,295.8 L291.5,295.7 L292.0,295.5 L292.5,295.3 L293.0,295.1 L293.6,295.0 L294.1,294.8 L294.6,294.8 L295.1,294.7 L295.6,294.6 L296.1,294.5 L296.6,294.5 L297.1,294.4 L297.7,294.4 L298.2,294.4 L298.7,294.5 L299.2,294.5 L299.7,294.6 L300.2,294.8 L300.7,294.9 L301.2,295.1 L301.8,295.3 L302.3,295.5 L302.8,295.6 L303.3,295.7 L303.8,295.8 L304.3,295.8 L304.8,295.8 L305.3,295.7 L305.9,295.6 L306.4,295.5 L306.9,295.3 L307.4,295.0 L307.9,294.6 L308.4,294.2 L308.9,293.8 L309.4,293.5 L310.0,293.3 L310.5,293.2 L311.0,293.3 L311.5,293.6 L312.0,293.9 L312.5,294.3 L313.0,294.6 L313.5,295.0 L314.1,295.2 L314.6,295.4 L315.1,295.5 L315.6,295.6 L316.1,295.6 L316.6,295.5 L317.1,295.4 L317.7,295.1 L318.2,294.7 L318.7,294.1 L319.2,293.3 L319.7,292.6 L320.2,292.0 L320.7,291.6 L321.2,291.6 L321.8,291.9 L322.3,292.5 L322.8,293.3 L323.3,294.1 L323.8,294.8 L324.3,295.3 L324.8,295.7 L325.3,295.9 L325.9,296.1 L326.4,296.1 L326.9,296.1 L327.4,296.0 L327.9,296.0 L328.4,295.9 L328.9,295.8 L329.4,295.7 L330.0,295.7 L330.5,295.6 L331.0,295.6 L331.5,295.5 L332.0,295.5 L332.5,295.6 L333.0,295.6 L333.5,295.7 L334.1,295.8 L334.6,295.8 L335.1,295.8 L335.6,295.8 L336.1,295.7 L336.6,295.6 L337.1,295.5 L337.6,295.4 L338.2,295.4 L338.7,295.3 L339.2,295.3 L339.7,295.3 L340.2,295.4 L340.7,295.5 L341.2,295.5 L341.7,295.6 L342.3,295.7 L342.8,295.8 L343.3,295.8 L343.8,295.8 L344.3,295.9 L344.8,295.9 L345.3,296.0 L345.8,296.1 L346.4,296.2 L346.9,296.3 L347.4,296.3 L347.9,296.0 L348.4,295.3 L348.9,293.9 L349.4,291.5 L349.9,287.9 L350.5,282.9 L351.0,277.1 L351.5,271.0 L352.0,265.6 L352.5,262.0 L353.0,260.9 L353.5,262.6 L354.0,266.8 L354.6,272.4 L355.1,278.4 L355.6,283.9 L356.1,288.3 L356.6,291.5 L357.1,293.5 L357.6,294.7 L358.1,295.4 L358.7,295.7 L359.2,295.8 L359.7,295.9 L360.2,295.9 L360.7,295.9 L361.2,295.9 L361.7,295.8 L362.2,295.8 L362.8,295.8 L363.3,295.8 L363.8,295.8 L364.3,295.8 L364.8,295.8 L365.3,295.9 L365.8,296.0 L366.3,296.1 L366.9,296.2 L367.4,296.3 L367.9,296.4 L368.4,296.4 L368.9,296.5 L369.4,296.4 L369.9,296.4 L370.4,296.3 L371.0,296.2 L371.5,296.1 L372.0,296.0 L372.5,295.9 L373.0,295.8 L373.5,295.7 L374.0,295.6 L374.5,295.6 L375.1,295.5 L375.6,295.5 L376.1,295.5 L376.6,295.5 L377.1,295.5 L377.6,295.5 L378.1,295.6 L378.6,295.6 L379.2,295.6 L379.7,295.6 L380.2,295.7 L380.7,295.7 L381.2,295.7 L381.7,295.7 L382.2,295.8 L382.8,295.8 L383.3,295.8 L383.8,295.9 L384.3,296.0 L384.8,296.1 L385.3,296.1 L385.8,296.2 L386.3,296.3 L386.9,296.3 L387.4,296.4 L387.9,296.4 L388.4,296.5 L388.9,296.4 L389.4,296.3 L389.9,296.1 L390.4,295.6 L391.0,294.5 L391.5,292.5 L392.0,288.8 L392.5,283.0 L393.0,274.5 L393.5,263.5 L394.0,250.5 L394.5,237.3 L395.1,225.9 L395.6,218.6 L396.1,216.9 L396.6,221.3 L397.1,230.7 L397.6,243.1 L398.1,256.4 L398.6,268.6 L399.2,278.5 L399.7,285.7 L400.2,290.4 L400.7,293.4 L401.2,295.0 L401.7,295.9 L402.2,296.3 L402.7,296.6 L403.3,296.7 L403.8,296.7 L404.3,296.7 L404.8,296.7 L405.3,296.6 L405.8,296.6 L406.3,296.5 L406.8,296.4 L407.4,296.4 L407.9,296.4 L408.4,296.4 L408.9,296.3 L409.4,296.3 L409.9,296.3 L410.4,296.3 L410.9,296.2 L411.5,296.2 L412.0,296.1 L412.5,296.1 L413.0,296.1 L413.5,296.1 L414.0,296.1 L414.5,296.1 L415.0,296.2 L415.6,296.3 L416.1,296.4 L416.6,296.5 L417.1,296.5 L417.6,296.6 L418.1,296.6 L418.6,296.6 L419.1,296.6 L419.7,296.6 L420.2,296.6 L420.7,296.6 L421.2,296.5 L421.7,296.3 L422.2,296.0 L422.7,295.5 L423.2,294.6 L423.8,293.4 L424.3,291.6 L424.8,289.3 L425.3,286.3 L425.8,282.8 L426.3,279.0 L426.8,275.2 L427.3,271.8 L427.9,269.1 L428.4,267.5 L428.9,267.1 L429.4,268.1 L429.9,270.3 L430.4,273.4 L430.9,277.1 L431.4,280.9 L432.0,284.5 L432.5,287.7 L433.0,290.4 L433.5,292.4 L434.0,293.9 L434.5,294.9 L435.0,295.6 L435.5,295.9 L436.1,296.1 L436.6,296.2 L437.1,296.3 L437.6,296.3 L438.1,296.3 L438.6,296.3 L439.1,296.4 L439.6,296.4 L440.2,296.5 L440.7,296.6 L441.2,296.7 L441.7,296.8 L442.2,296.9 L442.7,296.9 L443.2,297.0 L443.7,297.0 L444.3,296.9 L444.8,296.9 L445.3,296.9 L445.8,296.8 L446.3,296.8 L446.6,296.8" fill="none" stroke="#f0c84c" stroke-width="1.2" stroke-linejoin="round"/>
<path d="M281.4,300.7 L281.5,300.7 L282.1,300.5 L282.6,300.4 L283.1,300.3 L283.6,300.3 L284.1,300.3 L284.7,300.3 L285.2,300.4 L285.7,300.5 L286.2,300.7 L286.8,300.8 L287.3,301.0 L287.8,301.1 L288.3,301.1 L288.8,301.1 L289.4,301.0 L289.9,300.8 L290.4,300.5 L290.9,300.2 L291.5,299.8 L292.0,299.5 L292.5,299.2 L293.0,299.0 L293.5,298.8 L294.1,298.9 L294.6,299.0 L295.1,299.2 L295.6,299.5 L296.2,299.9 L296.7,300.3 L297.2,300.6 L297.7,300.9 L298.2,301.2 L298.8,301.3 L299.3,301.4 L299.8,301.4 L300.3,301.3 L300.8,301.1 L301.4,301.0 L301.9,300.8 L302.4,300.6 L302.9,300.5 L303.5,300.3 L304.0,300.3 L304.5,300.3 L305.0,300.4 L305.5,300.5 L306.1,300.6 L306.6,300.8 L307.1,301.0 L307.6,301.2 L308.2,301.3 L308.7,301.4 L309.2,301.5 L309.7,301.4 L310.2,301.3 L310.8,301.1 L311.3,300.9 L311.8,300.5 L312.3,300.0 L312.8,299.4 L313.4,298.8 L313.9,298.3 L314.4,298.0 L314.9,297.9 L315.5,298.1 L316.0,298.4 L316.5,298.7 L317.0,299.1 L317.5,299.5 L318.1,299.7 L318.6,299.9 L319.1,300.0 L319.6,300.1 L320.2,300.2 L320.7,300.3 L321.2,300.4 L321.7,300.5 L322.2,300.6 L322.8,300.7 L323.3,300.7 L323.8,300.7 L324.3,300.7 L324.9,300.6 L325.4,300.6 L325.9,300.5 L326.4,300.6 L326.9,300.6 L327.5,300.7 L328.0,300.8 L328.5,300.9 L329.0,301.0 L329.5,301.1 L330.1,301.1 L330.6,301.1 L331.1,301.1 L331.6,301.0 L332.2,300.9 L332.7,300.7 L333.2,300.6 L333.7,300.5 L334.2,300.5 L334.8,300.5 L335.3,300.5 L335.8,300.6 L336.3,300.6 L336.9,300.7 L337.4,300.8 L337.9,300.9 L338.4,301.0 L338.9,301.0 L339.5,301.0 L340.0,301.0 L340.5,301.1 L341.0,301.1 L341.6,301.2 L342.1,301.3 L342.6,301.3 L343.1,301.2 L343.6,300.9 L344.2,300.2 L344.7,298.9 L345.2,296.7 L345.7,293.3 L346.2,288.4 L346.8,282.9 L347.3,277.1 L347.8,272.0 L348.3,268.6 L348.9,267.5 L349.4,269.2 L349.9,273.1 L350.4,278.4 L350.9,284.1 L351.5,289.4 L352.0,293.6 L352.5,296.7 L353.0,298.8 L353.6,300.0 L354.1,300.7 L354.6,301.0 L355.1,301.2 L355.6,301.2 L356.2,301.2 L356.7,301.3 L357.2,301.3 L357.7,301.3 L358.2,301.3 L358.8,301.3 L359.3,301.4 L359.8,301.4 L360.3,301.4 L360.9,301.3 L361.4,301.3 L361.9,301.3 L362.4,301.2 L362.9,301.2 L363.5,301.2 L364.0,301.1 L364.5,301.1 L365.0,301.1 L365.6,301.1 L366.1,301.1 L366.6,301.0 L367.1,301.0 L367.6,300.9 L368.2,300.8 L368.7,300.8 L369.2,300.7 L369.7,300.6 L370.3,300.5 L370.8,300.4 L371.3,300.3 L371.8,300.2 L372.3,300.0 L372.9,299.9 L373.4,299.8 L373.9,299.8 L374.4,299.7 L374.9,299.7 L375.5,299.8 L376.0,299.9 L376.5,300.0 L377.0,300.2 L377.6,300.4 L378.1,300.6 L378.6,300.8 L379.1,301.0 L379.6,301.1 L380.2,301.2 L380.7,301.2 L381.2,301.3 L381.7,301.3 L382.3,301.3 L382.8,301.3 L383.3,301.2 L383.8,301.2 L384.3,301.2 L384.9,301.2 L385.4,301.1 L385.9,301.0 L386.4,300.7 L387.0,300.0 L387.5,298.6 L388.0,296.0 L388.5,291.5 L389.0,284.5 L389.6,274.7 L390.1,262.5 L390.6,248.8 L391.1,235.7 L391.6,225.4 L392.2,220.0 L392.7,220.8 L393.2,227.5 L393.7,238.7 L394.3,252.2 L394.8,265.6 L395.3,277.3 L395.8,286.3 L396.3,292.6 L396.9,296.6 L397.4,298.8 L397.9,300.0 L398.4,300.5 L399.0,300.8 L399.5,300.8 L400.0,300.9 L400.5,300.9 L401.0,300.9 L401.6,300.9 L402.1,300.9 L402.6,300.9 L403.1,300.9 L403.6,300.9 L404.2,300.9 L404.7,300.9 L405.2,300.9 L405.7,300.9 L406.3,300.9 L406.8,300.9 L407.3,300.9 L407.8,300.9 L408.3,300.9 L408.9,300.8 L409.4,300.8 L409.9,300.8 L410.4,300.8 L411.0,300.8 L411.5,300.8 L412.0,300.8 L412.5,300.9 L413.0,300.9 L413.6,300.9 L414.1,300.9 L414.6,300.9 L415.1,301.0 L415.7,301.0 L416.2,301.0 L416.7,300.9 L417.2,300.9 L417.7,300.8 L418.3,300.7 L418.8,300.6 L419.3,300.3 L419.8,299.8 L420.3,299.0 L420.9,297.9 L421.4,296.4 L421.9,294.3 L422.4,291.7 L423.0,288.7 L423.5,285.4 L424.0,282.1 L424.5,279.1 L425.0,276.7 L425.6,275.3 L426.1,275.0 L426.6,275.9 L427.1,277.8 L427.7,280.6 L428.2,283.9 L428.7,287.3 L429.2,290.5 L429.7,293.4 L430.3,295.7 L430.8,297.6 L431.3,298.9 L431.8,299.9 L432.3,300.5 L432.9,300.9 L433.4,301.2 L433.9,301.3 L434.4,301.4 L435.0,301.5 L435.5,301.5 L436.0,301.6 L436.5,301.5 L437.0,301.5 L437.6,301.5 L438.1,301.4 L438.6,301.3 L439.1,301.3 L439.7,301.2 L440.2,301.2 L440.7,301.2 L441.2,301.2 L441.7,301.2 L442.3,301.2 L442.8,301.3 L443.3,301.3 L443.8,301.4 L444.2,301.4" fill="none" stroke="#6ab04c" stroke-width="1.2" stroke-linejoin="round"/>
<line x1="302.43" y1="282.81" x2="453.81" y2="282.81" stroke="#2a2a2a" stroke-width="1.1" />
<line x1="275.60" y1="199.40" x2="275.60" y2="307.30" stroke="#000" stroke-width="1.2" />
<line x1="275.10" y1="306.80" x2="441.40" y2="306.80" stroke="#000" stroke-width="1.2" />
<line x1="275.60" y1="306.80" x2="302.43" y2="282.81" stroke="#000" stroke-width="1.1" />
<line x1="441.40" y1="306.80" x2="453.81" y2="282.81" stroke="#000" stroke-width="1.1" />
<rect x="280.60" y="196.6" width="70" height="44.5" fill="#fff"/>
<line x1="281.70" y1="202.40" x2="297.10" y2="202.40" stroke="#6ab04c" stroke-width="1.3" />
<text x="300.60" y="205.10" font-size="8.5" fill="#231f20" stroke="#231f20" stroke-width="0.25" text-anchor="start" textLength="25.8" lengthAdjust="spacingAndGlyphs" >Control</text>
<line x1="281.70" y1="213.85" x2="297.10" y2="213.85" stroke="#f0c84c" stroke-width="1.3" />
<text x="300.60" y="216.55" font-size="8.5" fill="#231f20" stroke="#231f20" stroke-width="0.25" text-anchor="start" textLength="28.6" lengthAdjust="spacingAndGlyphs" >Warfarin</text>
<line x1="281.70" y1="225.30" x2="297.10" y2="225.30" stroke="#e89a34" stroke-width="1.3" />
<text x="300.60" y="228.00" font-size="8.5" fill="#231f20" stroke="#231f20" stroke-width="0.25" text-anchor="start" textLength="45.4" lengthAdjust="spacingAndGlyphs" >Nitazoxanide</text>
<line x1="281.70" y1="236.75" x2="297.10" y2="236.75" stroke="#c4365a" stroke-width="1.3" />
<text x="300.60" y="239.45" font-size="8.5" fill="#231f20" stroke="#231f20" stroke-width="0.25" text-anchor="start" textLength="45.3" lengthAdjust="spacingAndGlyphs" >Lansoprazole</text>
<text x="352.80" y="251.30" font-size="8.5" fill="#b0062e" stroke="#b0062e" stroke-width="0.25" text-anchor="start" textLength="10.7" lengthAdjust="spacingAndGlyphs" >KO</text>
<text x="385.90" y="201.90" font-size="8.8" fill="#231f20" stroke="#231f20" stroke-width="0.25" text-anchor="start" textLength="31.4" lengthAdjust="spacingAndGlyphs" >Standard</text>
<text x="429.80" y="253.60" font-size="8.5" fill="#231f20" stroke="#231f20" stroke-width="0.25" text-anchor="start" textLength="7.9" lengthAdjust="spacingAndGlyphs" >K1</text>
<text x="345.30" y="334.10" font-size="9.7" fill="#231f20" stroke="#231f20" stroke-width="0.25" text-anchor="start" textLength="37.9" lengthAdjust="spacingAndGlyphs" >Time (min)</text>
<text transform="translate(254.7,257.0) rotate(-90)" font-size="10" fill="#231f20" stroke="#231f20" stroke-width="0.25" textLength="24" lengthAdjust="spacingAndGlyphs">mVolts</text>
</svg>
</body></html>
